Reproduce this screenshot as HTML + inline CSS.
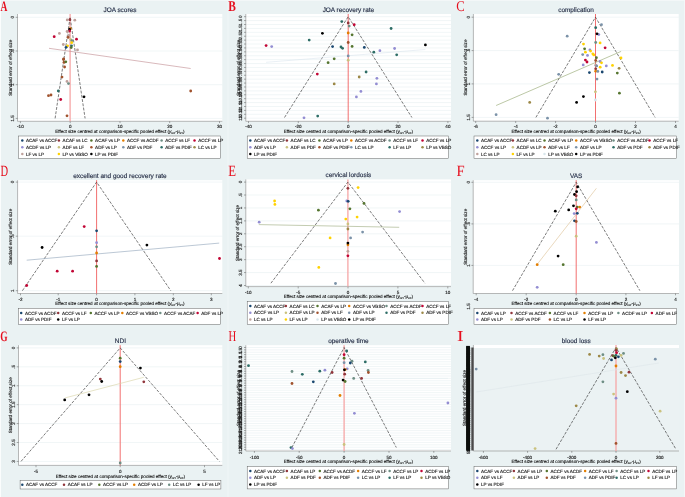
<!DOCTYPE html>
<html lang="en">
<head>
<meta charset="utf-8">
<title>Funnel plots</title>
<style>
html,body{margin:0;padding:0;background:#eaf2f3;}
body{width:685px;height:497px;overflow:hidden;}
svg{display:block;font-family:"Liberation Sans",sans-serif;}
svg text{stroke:#222;stroke-width:.14px;}
svg text.L{stroke:none;}
</style>
</head>
<body>
<svg width="685" height="497" viewBox="0 0 685 497" text-rendering="geometricPrecision">
<rect x="0" y="0" width="685" height="497" fill="#eaf2f3"/>
<rect x="0" y="0" width="0.8" height="497" fill="#fff"/>
<rect x="0" y="0" width="685" height="0.7" fill="#f6fafa"/>
<line x1="228" x2="228" y1="0" y2="497" stroke="#f2f7f8" stroke-width="0.8"/>
<rect x="684.1" y="0" width="0.9" height="497" fill="#f4f8f9"/>
<rect x="17.5" y="14" width="204.8" height="107.3" fill="#fff"/>
<line x1="17.5" x2="222.3" y1="17.3" y2="17.3" stroke="#e3ecef" stroke-width="0.5"/>
<line x1="17.5" x2="222.3" y1="51" y2="51" stroke="#e3ecef" stroke-width="0.5"/>
<line x1="17.5" x2="222.3" y1="84.7" y2="84.7" stroke="#e3ecef" stroke-width="0.5"/>
<line x1="17.5" x2="222.3" y1="118.4" y2="118.4" stroke="#e3ecef" stroke-width="0.5"/>
<line x1="17.5" x2="17.5" y1="14" y2="121.3" stroke="#8a8a8a" stroke-width="0.6"/>
<line x1="17.5" x2="222.3" y1="121.3" y2="121.3" stroke="#8a8a8a" stroke-width="0.6"/>
<line x1="15.7" x2="17.5" y1="17.3" y2="17.3" stroke="#555" stroke-width="0.5"/>
<text transform="translate(14.1,17.3) rotate(-90)" text-anchor="middle" font-size="4.55" fill="#111">0</text>
<line x1="15.7" x2="17.5" y1="51" y2="51" stroke="#555" stroke-width="0.5"/>
<text transform="translate(14.1,51) rotate(-90)" text-anchor="middle" font-size="4.55" fill="#111">.5</text>
<line x1="15.7" x2="17.5" y1="84.7" y2="84.7" stroke="#555" stroke-width="0.5"/>
<text transform="translate(14.1,84.7) rotate(-90)" text-anchor="middle" font-size="4.55" fill="#111">1</text>
<line x1="15.7" x2="17.5" y1="118.4" y2="118.4" stroke="#555" stroke-width="0.5"/>
<text transform="translate(14.1,118.4) rotate(-90)" text-anchor="middle" font-size="4.55" fill="#111">1.5</text>
<line x1="20.4" x2="20.4" y1="121.3" y2="123.1" stroke="#555" stroke-width="0.5"/>
<text x="20.4" y="128" text-anchor="middle" font-size="4.55" fill="#111">-10</text>
<line x1="70.2" x2="70.2" y1="121.3" y2="123.1" stroke="#555" stroke-width="0.5"/>
<text x="70.2" y="128" text-anchor="middle" font-size="4.55" fill="#111">0</text>
<line x1="120" x2="120" y1="121.3" y2="123.1" stroke="#555" stroke-width="0.5"/>
<text x="120" y="128" text-anchor="middle" font-size="4.55" fill="#111">10</text>
<line x1="169.7" x2="169.7" y1="121.3" y2="123.1" stroke="#555" stroke-width="0.5"/>
<text x="169.7" y="128" text-anchor="middle" font-size="4.55" fill="#111">20</text>
<line x1="219.5" x2="219.5" y1="121.3" y2="123.1" stroke="#555" stroke-width="0.5"/>
<text x="219.5" y="128" text-anchor="middle" font-size="4.55" fill="#111">30</text>
<text x="119.9" y="11.9" text-anchor="middle" font-size="6.45" fill="#24335a" stroke="#24335a">JOA scores</text>
<text x="119.9" y="132.6" text-anchor="middle" font-size="4.55" fill="#111">Effect size centred at comparison-specific pooled effect (<tspan font-style="italic">y</tspan><tspan font-size="2.6" dy="0.9">iXY</tspan><tspan dy="-0.9">-μ</tspan><tspan font-size="2.6" dy="0.9">XY</tspan><tspan dy="-0.9">)</tspan></text>
<text transform="translate(11.5,67.65) rotate(-90)" text-anchor="middle" font-size="4.55" fill="#111">Standard error of effect size</text>
<line x1="70.1" x2="70.1" y1="14" y2="121.3" stroke="#f6a6a6" stroke-width="1.3"/>
<path d="M55.1 118.4L70.1 17.3L85.1 118.4" fill="none" stroke="#2a2a2a" stroke-width="0.62" stroke-dasharray="2.9 1.4"/>
<line x1="49" y1="48.3" x2="190.7" y2="68.5" stroke="#c08a8e" stroke-width="0.6"/>
<circle cx="67.2" cy="19.9" r="1.4" fill="#bfa19c"/>
<circle cx="69.9" cy="19.7" r="1.4" fill="#90353b"/>
<circle cx="74.8" cy="20.2" r="1.4" fill="#bfa19c"/>
<circle cx="70.3" cy="28.7" r="1.4" fill="#e37e00"/>
<circle cx="69.6" cy="29.4" r="1.4" fill="#000000"/>
<circle cx="69.6" cy="31" r="1.4" fill="#c10534"/>
<circle cx="67.1" cy="31.5" r="1.4" fill="#bfa19c"/>
<circle cx="59.4" cy="33.4" r="1.4" fill="#bfa19c"/>
<circle cx="54.2" cy="36.7" r="1.4" fill="#c10534"/>
<circle cx="68.9" cy="35.5" r="1.4" fill="#bfa19c"/>
<circle cx="68.1" cy="37.4" r="1.4" fill="#a0522d"/>
<circle cx="76.5" cy="39.2" r="1.4" fill="#c10534"/>
<circle cx="70.7" cy="39.6" r="1.4" fill="#cac27e"/>
<circle cx="71.9" cy="40.7" r="1.4" fill="#6e8e84"/>
<circle cx="71.7" cy="42.7" r="1.4" fill="#ffd200"/>
<circle cx="63.3" cy="44.5" r="1.4" fill="#bfa19c"/>
<circle cx="67.6" cy="45.8" r="1.4" fill="#ffd200"/>
<circle cx="66.1" cy="47.3" r="1.4" fill="#1a476f"/>
<circle cx="71.5" cy="45.8" r="1.4" fill="#2d6d66"/>
<circle cx="71.2" cy="47.6" r="1.4" fill="#55752f"/>
<circle cx="77.5" cy="49.9" r="1.4" fill="#bfa19c"/>
<circle cx="63.7" cy="59" r="1.4" fill="#a0522d"/>
<circle cx="63.5" cy="59.4" r="1.4" fill="#a0522d"/>
<circle cx="64" cy="62.4" r="1.4" fill="#a0522d"/>
<circle cx="65.8" cy="61.8" r="1.4" fill="#55752f"/>
<circle cx="64.6" cy="67" r="1.4" fill="#a0522d"/>
<circle cx="62" cy="77.1" r="1.4" fill="#a0522d"/>
<circle cx="67" cy="81.4" r="1.4" fill="#bfa19c"/>
<circle cx="68.5" cy="83.6" r="1.4" fill="#6e8e84"/>
<circle cx="58.3" cy="90.9" r="1.4" fill="#2d6d66"/>
<circle cx="48.5" cy="95.7" r="1.4" fill="#a0522d"/>
<circle cx="51" cy="95" r="1.4" fill="#a0522d"/>
<circle cx="60.7" cy="99.5" r="1.4" fill="#c10534"/>
<circle cx="84" cy="96.8" r="1.4" fill="#000000"/>
<circle cx="67" cy="115.8" r="1.4" fill="#a0522d"/>
<circle cx="190.7" cy="91" r="1.4" fill="#a0522d"/>
<rect x="18.6" y="136" width="201.8" height="22.3" fill="#fff" stroke="#555" stroke-width="0.45"/>
<circle cx="22.3" cy="140.4" r="1.25" fill="#1a476f"/>
<text x="26" y="142" font-size="4.55" fill="#111">ACAF vs ACCF</text>
<circle cx="58.9" cy="140.4" r="1.25" fill="#90353b"/>
<text x="62.6" y="142" font-size="4.55" fill="#111">ACAF vs LC</text>
<circle cx="91.4" cy="140.4" r="1.25" fill="#55752f"/>
<text x="95.1" y="142" font-size="4.55" fill="#111">ACAF vs LP</text>
<circle cx="123.3" cy="140.4" r="1.25" fill="#e37e00"/>
<text x="127" y="142" font-size="4.55" fill="#111">ACCF vs ACDF</text>
<circle cx="161.6" cy="140.4" r="1.25" fill="#6e8e84"/>
<text x="165.3" y="142" font-size="4.55" fill="#111">ACCF vs LF</text>
<circle cx="194.5" cy="140.4" r="1.25" fill="#c10534"/>
<text x="198.2" y="142" font-size="4.55" fill="#111">ACCF vs LP</text>
<circle cx="22.3" cy="147.3" r="1.25" fill="#938dd2"/>
<text x="26" y="148.9" font-size="4.55" fill="#111">ACDF vs LP</text>
<circle cx="58.9" cy="147.3" r="1.25" fill="#cac27e"/>
<text x="62.6" y="148.9" font-size="4.55" fill="#111">ADF vs LF</text>
<circle cx="91.4" cy="147.3" r="1.25" fill="#a0522d"/>
<text x="95.1" y="148.9" font-size="4.55" fill="#111">ADF vs LP</text>
<circle cx="123.3" cy="147.3" r="1.25" fill="#7b92a8"/>
<text x="127" y="148.9" font-size="4.55" fill="#111">ADF vs PDF</text>
<circle cx="161.6" cy="147.3" r="1.25" fill="#2d6d66"/>
<text x="165.3" y="148.9" font-size="4.55" fill="#111">ADF vs PDIF</text>
<circle cx="194.5" cy="147.3" r="1.25" fill="#9c8847"/>
<text x="198.2" y="148.9" font-size="4.55" fill="#111">LC vs LP</text>
<circle cx="22.3" cy="154.1" r="1.25" fill="#bfa19c"/>
<text x="26" y="155.7" font-size="4.55" fill="#111">LF vs LP</text>
<circle cx="58.9" cy="154.1" r="1.25" fill="#ffd200"/>
<text x="62.6" y="155.7" font-size="4.55" fill="#111">LP vs VBSO</text>
<circle cx="91.4" cy="154.1" r="1.25" fill="#000000"/>
<text x="95.1" y="155.7" font-size="4.55" fill="#111">LP vs PDIF</text>
<text transform="translate(0.61,10.5) scale(0.950,1.454)" font-family="'Liberation Serif',serif" class="L" font-weight="bold" font-size="10" fill="#e60f1e">A</text>
<rect x="245.8" y="14" width="205.2" height="107.3" fill="#fff"/>
<line x1="245.8" x2="451" y1="16.7" y2="16.7" stroke="#e3ecef" stroke-width="0.5"/>
<line x1="245.8" x2="451" y1="20.6" y2="20.6" stroke="#e3ecef" stroke-width="0.5"/>
<line x1="245.8" x2="451" y1="24.51" y2="24.51" stroke="#e3ecef" stroke-width="0.5"/>
<line x1="245.8" x2="451" y1="28.41" y2="28.41" stroke="#e3ecef" stroke-width="0.5"/>
<line x1="245.8" x2="451" y1="32.32" y2="32.32" stroke="#e3ecef" stroke-width="0.5"/>
<line x1="245.8" x2="451" y1="36.22" y2="36.22" stroke="#e3ecef" stroke-width="0.5"/>
<line x1="245.8" x2="451" y1="40.12" y2="40.12" stroke="#e3ecef" stroke-width="0.5"/>
<line x1="245.8" x2="451" y1="44.03" y2="44.03" stroke="#e3ecef" stroke-width="0.5"/>
<line x1="245.8" x2="451" y1="47.93" y2="47.93" stroke="#e3ecef" stroke-width="0.5"/>
<line x1="245.8" x2="451" y1="51.84" y2="51.84" stroke="#e3ecef" stroke-width="0.5"/>
<line x1="245.8" x2="451" y1="55.74" y2="55.74" stroke="#e3ecef" stroke-width="0.5"/>
<line x1="245.8" x2="451" y1="59.64" y2="59.64" stroke="#e3ecef" stroke-width="0.5"/>
<line x1="245.8" x2="451" y1="63.55" y2="63.55" stroke="#e3ecef" stroke-width="0.5"/>
<line x1="245.8" x2="451" y1="67.45" y2="67.45" stroke="#e3ecef" stroke-width="0.5"/>
<line x1="245.8" x2="451" y1="71.36" y2="71.36" stroke="#e3ecef" stroke-width="0.5"/>
<line x1="245.8" x2="451" y1="75.26" y2="75.26" stroke="#e3ecef" stroke-width="0.5"/>
<line x1="245.8" x2="451" y1="79.16" y2="79.16" stroke="#e3ecef" stroke-width="0.5"/>
<line x1="245.8" x2="451" y1="83.07" y2="83.07" stroke="#e3ecef" stroke-width="0.5"/>
<line x1="245.8" x2="451" y1="86.97" y2="86.97" stroke="#e3ecef" stroke-width="0.5"/>
<line x1="245.8" x2="451" y1="90.88" y2="90.88" stroke="#e3ecef" stroke-width="0.5"/>
<line x1="245.8" x2="451" y1="94.78" y2="94.78" stroke="#e3ecef" stroke-width="0.5"/>
<line x1="245.8" x2="451" y1="98.68" y2="98.68" stroke="#e3ecef" stroke-width="0.5"/>
<line x1="245.8" x2="451" y1="102.59" y2="102.59" stroke="#e3ecef" stroke-width="0.5"/>
<line x1="245.8" x2="451" y1="106.49" y2="106.49" stroke="#e3ecef" stroke-width="0.5"/>
<line x1="245.8" x2="451" y1="110.4" y2="110.4" stroke="#e3ecef" stroke-width="0.5"/>
<line x1="245.8" x2="451" y1="114.3" y2="114.3" stroke="#e3ecef" stroke-width="0.5"/>
<line x1="245.8" x2="451" y1="118.2" y2="118.2" stroke="#e3ecef" stroke-width="0.5"/>
<line x1="245.8" x2="245.8" y1="14" y2="121.3" stroke="#8a8a8a" stroke-width="0.6"/>
<line x1="245.8" x2="451" y1="121.3" y2="121.3" stroke="#8a8a8a" stroke-width="0.6"/>
<line x1="244" x2="245.8" y1="16.7" y2="16.7" stroke="#555" stroke-width="0.5"/>
<text transform="translate(242.4,16.7) rotate(-90)" text-anchor="middle" font-size="4.55" fill="#111">0</text>
<line x1="244" x2="245.8" y1="20.6" y2="20.6" stroke="#555" stroke-width="0.5"/>
<text transform="translate(242.4,20.6) rotate(-90)" text-anchor="middle" font-size="4.55" fill="#111">.5</text>
<line x1="244" x2="245.8" y1="24.51" y2="24.51" stroke="#555" stroke-width="0.5"/>
<text transform="translate(242.4,24.51) rotate(-90)" text-anchor="middle" font-size="4.55" fill="#111">1</text>
<line x1="244" x2="245.8" y1="28.41" y2="28.41" stroke="#555" stroke-width="0.5"/>
<text transform="translate(242.4,28.41) rotate(-90)" text-anchor="middle" font-size="4.55" fill="#111">1.5</text>
<line x1="244" x2="245.8" y1="32.32" y2="32.32" stroke="#555" stroke-width="0.5"/>
<text transform="translate(242.4,32.32) rotate(-90)" text-anchor="middle" font-size="4.55" fill="#111">2</text>
<line x1="244" x2="245.8" y1="36.22" y2="36.22" stroke="#555" stroke-width="0.5"/>
<text transform="translate(242.4,36.22) rotate(-90)" text-anchor="middle" font-size="4.55" fill="#111">2.5</text>
<line x1="244" x2="245.8" y1="40.12" y2="40.12" stroke="#555" stroke-width="0.5"/>
<text transform="translate(242.4,40.12) rotate(-90)" text-anchor="middle" font-size="4.55" fill="#111">3</text>
<line x1="244" x2="245.8" y1="44.03" y2="44.03" stroke="#555" stroke-width="0.5"/>
<text transform="translate(242.4,44.03) rotate(-90)" text-anchor="middle" font-size="4.55" fill="#111">3.5</text>
<line x1="244" x2="245.8" y1="47.93" y2="47.93" stroke="#555" stroke-width="0.5"/>
<text transform="translate(242.4,47.93) rotate(-90)" text-anchor="middle" font-size="4.55" fill="#111">4</text>
<line x1="244" x2="245.8" y1="51.84" y2="51.84" stroke="#555" stroke-width="0.5"/>
<text transform="translate(242.4,51.84) rotate(-90)" text-anchor="middle" font-size="4.55" fill="#111">4.5</text>
<line x1="244" x2="245.8" y1="55.74" y2="55.74" stroke="#555" stroke-width="0.5"/>
<text transform="translate(242.4,55.74) rotate(-90)" text-anchor="middle" font-size="4.55" fill="#111">5</text>
<line x1="244" x2="245.8" y1="59.64" y2="59.64" stroke="#555" stroke-width="0.5"/>
<text transform="translate(242.4,59.64) rotate(-90)" text-anchor="middle" font-size="4.55" fill="#111">5.5</text>
<line x1="244" x2="245.8" y1="63.55" y2="63.55" stroke="#555" stroke-width="0.5"/>
<text transform="translate(242.4,63.55) rotate(-90)" text-anchor="middle" font-size="4.55" fill="#111">6</text>
<line x1="244" x2="245.8" y1="67.45" y2="67.45" stroke="#555" stroke-width="0.5"/>
<text transform="translate(242.4,67.45) rotate(-90)" text-anchor="middle" font-size="4.55" fill="#111">6.5</text>
<line x1="244" x2="245.8" y1="71.36" y2="71.36" stroke="#555" stroke-width="0.5"/>
<text transform="translate(242.4,71.36) rotate(-90)" text-anchor="middle" font-size="4.55" fill="#111">7</text>
<line x1="244" x2="245.8" y1="75.26" y2="75.26" stroke="#555" stroke-width="0.5"/>
<text transform="translate(242.4,75.26) rotate(-90)" text-anchor="middle" font-size="4.55" fill="#111">7.5</text>
<line x1="244" x2="245.8" y1="79.16" y2="79.16" stroke="#555" stroke-width="0.5"/>
<text transform="translate(242.4,79.16) rotate(-90)" text-anchor="middle" font-size="4.55" fill="#111">8</text>
<line x1="244" x2="245.8" y1="83.07" y2="83.07" stroke="#555" stroke-width="0.5"/>
<text transform="translate(242.4,83.07) rotate(-90)" text-anchor="middle" font-size="4.55" fill="#111">8.5</text>
<line x1="244" x2="245.8" y1="86.97" y2="86.97" stroke="#555" stroke-width="0.5"/>
<text transform="translate(242.4,86.97) rotate(-90)" text-anchor="middle" font-size="4.55" fill="#111">9</text>
<line x1="244" x2="245.8" y1="90.88" y2="90.88" stroke="#555" stroke-width="0.5"/>
<text transform="translate(242.4,90.88) rotate(-90)" text-anchor="middle" font-size="4.55" fill="#111">9.5</text>
<line x1="244" x2="245.8" y1="94.78" y2="94.78" stroke="#555" stroke-width="0.5"/>
<text transform="translate(242.4,94.78) rotate(-90)" text-anchor="middle" font-size="4.55" fill="#111">10</text>
<line x1="244" x2="245.8" y1="98.68" y2="98.68" stroke="#555" stroke-width="0.5"/>
<text transform="translate(242.4,98.68) rotate(-90)" text-anchor="middle" font-size="4.55" fill="#111">10.5</text>
<line x1="244" x2="245.8" y1="102.59" y2="102.59" stroke="#555" stroke-width="0.5"/>
<text transform="translate(242.4,102.59) rotate(-90)" text-anchor="middle" font-size="4.55" fill="#111">11</text>
<line x1="244" x2="245.8" y1="106.49" y2="106.49" stroke="#555" stroke-width="0.5"/>
<text transform="translate(242.4,106.49) rotate(-90)" text-anchor="middle" font-size="4.55" fill="#111">11.5</text>
<line x1="244" x2="245.8" y1="110.4" y2="110.4" stroke="#555" stroke-width="0.5"/>
<text transform="translate(242.4,110.4) rotate(-90)" text-anchor="middle" font-size="4.55" fill="#111">12</text>
<line x1="244" x2="245.8" y1="114.3" y2="114.3" stroke="#555" stroke-width="0.5"/>
<text transform="translate(242.4,114.3) rotate(-90)" text-anchor="middle" font-size="4.55" fill="#111">12.5</text>
<line x1="244" x2="245.8" y1="118.2" y2="118.2" stroke="#555" stroke-width="0.5"/>
<text transform="translate(242.4,118.2) rotate(-90)" text-anchor="middle" font-size="4.55" fill="#111">13</text>
<line x1="248.5" x2="248.5" y1="121.3" y2="123.1" stroke="#555" stroke-width="0.5"/>
<text x="248.5" y="128" text-anchor="middle" font-size="4.55" fill="#111">-40</text>
<line x1="298.3" x2="298.3" y1="121.3" y2="123.1" stroke="#555" stroke-width="0.5"/>
<text x="298.3" y="128" text-anchor="middle" font-size="4.55" fill="#111">-20</text>
<line x1="348.2" x2="348.2" y1="121.3" y2="123.1" stroke="#555" stroke-width="0.5"/>
<text x="348.2" y="128" text-anchor="middle" font-size="4.55" fill="#111">0</text>
<line x1="398" x2="398" y1="121.3" y2="123.1" stroke="#555" stroke-width="0.5"/>
<text x="398" y="128" text-anchor="middle" font-size="4.55" fill="#111">20</text>
<line x1="447.9" x2="447.9" y1="121.3" y2="123.1" stroke="#555" stroke-width="0.5"/>
<text x="447.9" y="128" text-anchor="middle" font-size="4.55" fill="#111">40</text>
<text x="348.4" y="11.9" text-anchor="middle" font-size="6.45" fill="#24335a" stroke="#24335a">JOA recovery rate</text>
<text x="348.4" y="132.6" text-anchor="middle" font-size="4.55" fill="#111">Effect size centred at comparison-specific pooled effect (<tspan font-style="italic">y</tspan><tspan font-size="2.6" dy="0.9">iXY</tspan><tspan dy="-0.9">-μ</tspan><tspan font-size="2.6" dy="0.9">XY</tspan><tspan dy="-0.9">)</tspan></text>
<text transform="translate(239.8,67.65) rotate(-90)" text-anchor="middle" font-size="4.55" fill="#111">Standard error of effect size</text>
<line x1="348.2" x2="348.2" y1="14" y2="121.3" stroke="#f06060" stroke-width="0.9"/>
<path d="M284.5 117.5L348.2 16.7L411.9 117.5" fill="none" stroke="#2a2a2a" stroke-width="0.62" stroke-dasharray="2.9 1.4"/>
<line x1="266.1" y1="62.3" x2="425.4" y2="49.5" stroke="#dbe6ee" stroke-width="0.6"/>
<circle cx="341.8" cy="21.6" r="1.4" fill="#2d6d66"/>
<circle cx="348.2" cy="22.9" r="1.4" fill="#90353b"/>
<circle cx="349.2" cy="26.1" r="1.4" fill="#6e8e84"/>
<circle cx="322.4" cy="33.3" r="1.4" fill="#000000"/>
<circle cx="348.2" cy="33" r="1.4" fill="#e37e00"/>
<circle cx="309.2" cy="40.1" r="1.4" fill="#2d6d66"/>
<circle cx="348.2" cy="42.5" r="1.4" fill="#a0522d"/>
<circle cx="266.1" cy="45.6" r="1.4" fill="#c10534"/>
<circle cx="271.7" cy="46.6" r="1.4" fill="#938dd2"/>
<circle cx="332.6" cy="46.6" r="1.4" fill="#1a476f"/>
<circle cx="341" cy="47" r="1.4" fill="#2d6d66"/>
<circle cx="342.6" cy="48.3" r="1.4" fill="#2d6d66"/>
<circle cx="348.2" cy="55.9" r="1.4" fill="#7b92a8"/>
<circle cx="348.2" cy="60.2" r="1.4" fill="#cac27e"/>
<circle cx="334.2" cy="58.8" r="1.4" fill="#55752f"/>
<circle cx="328.1" cy="62.7" r="1.4" fill="#55752f"/>
<circle cx="317.3" cy="74.1" r="1.4" fill="#c10534"/>
<circle cx="334.2" cy="83.9" r="1.4" fill="#9c8847"/>
<circle cx="354.2" cy="24.7" r="1.4" fill="#c10534"/>
<circle cx="391.1" cy="28.5" r="1.4" fill="#2d6d66"/>
<circle cx="352.1" cy="34.8" r="1.4" fill="#55752f"/>
<circle cx="352.1" cy="46.4" r="1.4" fill="#55752f"/>
<circle cx="364.3" cy="47.4" r="1.4" fill="#1a476f"/>
<circle cx="425.4" cy="44.9" r="1.4" fill="#000000"/>
<circle cx="394.6" cy="48.5" r="1.4" fill="#938dd2"/>
<circle cx="379.9" cy="50.7" r="1.4" fill="#938dd2"/>
<circle cx="373.8" cy="52.2" r="1.4" fill="#2d6d66"/>
<circle cx="396.7" cy="54.8" r="1.4" fill="#2d6d66"/>
<circle cx="366.1" cy="72" r="1.4" fill="#2d6d66"/>
<circle cx="359.2" cy="77" r="1.4" fill="#9c8847"/>
<circle cx="376.9" cy="78.3" r="1.4" fill="#938dd2"/>
<circle cx="376.4" cy="83.9" r="1.4" fill="#938dd2"/>
<circle cx="360.9" cy="91.4" r="1.4" fill="#938dd2"/>
<circle cx="356.4" cy="96.9" r="1.4" fill="#938dd2"/>
<circle cx="304" cy="117.8" r="1.4" fill="#938dd2"/>
<circle cx="317.7" cy="116.1" r="1.4" fill="#2d6d66"/>
<rect x="247.2" y="136" width="201.3" height="22.3" fill="#fff" stroke="#555" stroke-width="0.45"/>
<circle cx="250.3" cy="140.4" r="1.25" fill="#1a476f"/>
<text x="254" y="142" font-size="4.55" fill="#111">ACAF vs ACCF</text>
<circle cx="286.9" cy="140.4" r="1.25" fill="#90353b"/>
<text x="290.6" y="142" font-size="4.55" fill="#111">ACAF vs LC</text>
<circle cx="319.4" cy="140.4" r="1.25" fill="#55752f"/>
<text x="323.1" y="142" font-size="4.55" fill="#111">ACAF vs LP</text>
<circle cx="351.3" cy="140.4" r="1.25" fill="#e37e00"/>
<text x="355" y="142" font-size="4.55" fill="#111">ACCF vs ACDF</text>
<circle cx="389.6" cy="140.4" r="1.25" fill="#6e8e84"/>
<text x="393.3" y="142" font-size="4.55" fill="#111">ACCF vs LF</text>
<circle cx="422.5" cy="140.4" r="1.25" fill="#c10534"/>
<text x="426.2" y="142" font-size="4.55" fill="#111">ACCF vs LP</text>
<circle cx="250.3" cy="147.3" r="1.25" fill="#938dd2"/>
<text x="254" y="148.9" font-size="4.55" fill="#111">ADF vs LP</text>
<circle cx="286.9" cy="147.3" r="1.25" fill="#cac27e"/>
<text x="290.6" y="148.9" font-size="4.55" fill="#111">ADF vs PDF</text>
<circle cx="319.4" cy="147.3" r="1.25" fill="#a0522d"/>
<text x="323.1" y="148.9" font-size="4.55" fill="#111">ADF vs PDIF</text>
<circle cx="351.3" cy="147.3" r="1.25" fill="#7b92a8"/>
<text x="355" y="148.9" font-size="4.55" fill="#111">LC vs LP</text>
<circle cx="389.6" cy="147.3" r="1.25" fill="#2d6d66"/>
<text x="393.3" y="148.9" font-size="4.55" fill="#111">LF vs LP</text>
<circle cx="422.5" cy="147.3" r="1.25" fill="#9c8847"/>
<text x="426.2" y="148.9" font-size="4.55" fill="#111">LP vs VBSO</text>
<circle cx="250.3" cy="154.1" r="1.25" fill="#000000"/>
<text x="254" y="155.7" font-size="4.55" fill="#111">LP vs PDIF</text>
<text transform="translate(228.21,10.66) scale(1.140,1.490)" font-family="'Liberation Serif',serif" class="L" font-weight="bold" font-size="10" fill="#e60f1e">B</text>
<rect x="473.4" y="14" width="205.3" height="107.2" fill="#fff"/>
<line x1="473.4" x2="678.7" y1="17.2" y2="17.2" stroke="#e3ecef" stroke-width="0.5"/>
<line x1="473.4" x2="678.7" y1="50.6" y2="50.6" stroke="#e3ecef" stroke-width="0.5"/>
<line x1="473.4" x2="678.7" y1="83.9" y2="83.9" stroke="#e3ecef" stroke-width="0.5"/>
<line x1="473.4" x2="678.7" y1="117.4" y2="117.4" stroke="#e3ecef" stroke-width="0.5"/>
<line x1="473.4" x2="473.4" y1="14" y2="121.2" stroke="#8a8a8a" stroke-width="0.6"/>
<line x1="473.4" x2="678.7" y1="121.2" y2="121.2" stroke="#8a8a8a" stroke-width="0.6"/>
<line x1="471.6" x2="473.4" y1="17.2" y2="17.2" stroke="#555" stroke-width="0.5"/>
<text transform="translate(470,17.2) rotate(-90)" text-anchor="middle" font-size="4.55" fill="#111">0</text>
<line x1="471.6" x2="473.4" y1="50.6" y2="50.6" stroke="#555" stroke-width="0.5"/>
<text transform="translate(470,50.6) rotate(-90)" text-anchor="middle" font-size="4.55" fill="#111">.5</text>
<line x1="471.6" x2="473.4" y1="83.9" y2="83.9" stroke="#555" stroke-width="0.5"/>
<text transform="translate(470,83.9) rotate(-90)" text-anchor="middle" font-size="4.55" fill="#111">1</text>
<line x1="471.6" x2="473.4" y1="117.4" y2="117.4" stroke="#555" stroke-width="0.5"/>
<text transform="translate(470,117.4) rotate(-90)" text-anchor="middle" font-size="4.55" fill="#111">1.5</text>
<line x1="475.7" x2="475.7" y1="121.2" y2="123" stroke="#555" stroke-width="0.5"/>
<text x="475.7" y="128" text-anchor="middle" font-size="4.55" fill="#111">-6</text>
<line x1="515.7" x2="515.7" y1="121.2" y2="123" stroke="#555" stroke-width="0.5"/>
<text x="515.7" y="128" text-anchor="middle" font-size="4.55" fill="#111">-4</text>
<line x1="555.6" x2="555.6" y1="121.2" y2="123" stroke="#555" stroke-width="0.5"/>
<text x="555.6" y="128" text-anchor="middle" font-size="4.55" fill="#111">-2</text>
<line x1="595.5" x2="595.5" y1="121.2" y2="123" stroke="#555" stroke-width="0.5"/>
<text x="595.5" y="128" text-anchor="middle" font-size="4.55" fill="#111">0</text>
<line x1="635.5" x2="635.5" y1="121.2" y2="123" stroke="#555" stroke-width="0.5"/>
<text x="635.5" y="128" text-anchor="middle" font-size="4.55" fill="#111">2</text>
<line x1="675.5" x2="675.5" y1="121.2" y2="123" stroke="#555" stroke-width="0.5"/>
<text x="675.5" y="128" text-anchor="middle" font-size="4.55" fill="#111">4</text>
<text x="576.05" y="11.9" text-anchor="middle" font-size="6.45" fill="#24335a" stroke="#24335a">complication</text>
<text x="576.05" y="132.6" text-anchor="middle" font-size="4.55" fill="#111">Effect size centred at comparison-specific pooled effect (<tspan font-style="italic">y</tspan><tspan font-size="2.6" dy="0.9">iXY</tspan><tspan dy="-0.9">-μ</tspan><tspan font-size="2.6" dy="0.9">XY</tspan><tspan dy="-0.9">)</tspan></text>
<text transform="translate(466.5,67.6) rotate(-90)" text-anchor="middle" font-size="4.55" fill="#111">Standard error of effect size</text>
<line x1="595.5" x2="595.5" y1="14" y2="121.2" stroke="#f06060" stroke-width="0.9"/>
<path d="M535.9 117.4L595.5 17.2L655.1 117.4" fill="none" stroke="#2a2a2a" stroke-width="0.62" stroke-dasharray="2.9 1.4"/>
<line x1="496.1" y1="105.5" x2="621.1" y2="51.4" stroke="#8fa36a" stroke-width="0.6"/>
<circle cx="601.5" cy="24.7" r="1.4" fill="#7b92a8"/>
<circle cx="595.7" cy="27.7" r="1.4" fill="#2d6d66"/>
<circle cx="598.8" cy="34.6" r="1.4" fill="#938dd2"/>
<circle cx="597" cy="33.8" r="1.4" fill="#000000"/>
<circle cx="567.2" cy="36.2" r="1.4" fill="#7b92a8"/>
<circle cx="595.7" cy="42.5" r="1.4" fill="#6e8e84"/>
<circle cx="600.1" cy="42.9" r="1.4" fill="#ffd200"/>
<circle cx="583.5" cy="44.1" r="1.4" fill="#ffd200"/>
<circle cx="605.1" cy="47.8" r="1.4" fill="#c10534"/>
<circle cx="584.6" cy="48.8" r="1.4" fill="#55752f"/>
<circle cx="589.9" cy="49.9" r="1.4" fill="#938dd2"/>
<circle cx="590.6" cy="51.1" r="1.4" fill="#ffd200"/>
<circle cx="585.4" cy="52.2" r="1.4" fill="#ffd200"/>
<circle cx="582.7" cy="54.6" r="1.4" fill="#7b92a8"/>
<circle cx="587.5" cy="55.4" r="1.4" fill="#938dd2"/>
<circle cx="592.8" cy="53.8" r="1.4" fill="#ffd200"/>
<circle cx="593.8" cy="54.9" r="1.4" fill="#ffd200"/>
<circle cx="596.4" cy="57.7" r="1.4" fill="#55752f"/>
<circle cx="621" cy="58" r="1.4" fill="#ffd200"/>
<circle cx="585.4" cy="60.1" r="1.4" fill="#c10534"/>
<circle cx="587" cy="62" r="1.4" fill="#c10534"/>
<circle cx="595.7" cy="60.4" r="1.4" fill="#a0522d"/>
<circle cx="600.1" cy="61.5" r="1.4" fill="#938dd2"/>
<circle cx="601.5" cy="62.8" r="1.4" fill="#ffd200"/>
<circle cx="583.2" cy="64.9" r="1.4" fill="#938dd2"/>
<circle cx="595.7" cy="65.2" r="1.4" fill="#bfa19c"/>
<circle cx="596.7" cy="65.9" r="1.4" fill="#7b92a8"/>
<circle cx="606.3" cy="65.9" r="1.4" fill="#938dd2"/>
<circle cx="612.5" cy="65.4" r="1.4" fill="#ffd200"/>
<circle cx="600.2" cy="67.2" r="1.4" fill="#ffd200"/>
<circle cx="619.1" cy="68.3" r="1.4" fill="#9c8847"/>
<circle cx="595.7" cy="68.8" r="1.4" fill="#90353b"/>
<circle cx="595.7" cy="71.2" r="1.4" fill="#e37e00"/>
<circle cx="589.4" cy="72.6" r="1.4" fill="#1a476f"/>
<circle cx="602.2" cy="72" r="1.4" fill="#1a476f"/>
<circle cx="597.8" cy="71.4" r="1.4" fill="#7b92a8"/>
<circle cx="617.3" cy="73.1" r="1.4" fill="#55752f"/>
<circle cx="558.7" cy="74.3" r="1.4" fill="#7b92a8"/>
<circle cx="597" cy="79.1" r="1.4" fill="#7b92a8"/>
<circle cx="595.4" cy="91.8" r="1.4" fill="#cac27e"/>
<circle cx="595.4" cy="100" r="1.4" fill="#d9e6eb"/>
<circle cx="619.4" cy="93.2" r="1.4" fill="#55752f"/>
<circle cx="583.4" cy="96.6" r="1.4" fill="#000000"/>
<circle cx="576.6" cy="102.4" r="1.4" fill="#000000"/>
<circle cx="529.7" cy="102.4" r="1.4" fill="#9c8847"/>
<circle cx="496.1" cy="114.7" r="1.4" fill="#7b92a8"/>
<circle cx="547.5" cy="118.2" r="1.4" fill="#7b92a8"/>
<rect x="474" y="136" width="202.5" height="22.3" fill="#fff" stroke="#555" stroke-width="0.45"/>
<circle cx="477.3" cy="140.4" r="1.25" fill="#1a476f"/>
<text x="481" y="142" font-size="4.55" fill="#111">ACAF vs ACCF</text>
<circle cx="512.9" cy="140.4" r="1.25" fill="#90353b"/>
<text x="516.6" y="142" font-size="4.55" fill="#111">ACAF vs LC</text>
<circle cx="544.5" cy="140.4" r="1.25" fill="#55752f"/>
<text x="548.2" y="142" font-size="4.55" fill="#111">ACAF vs LP</text>
<circle cx="576.2" cy="140.4" r="1.25" fill="#e37e00"/>
<text x="579.9" y="142" font-size="4.55" fill="#111">ACCF vs VBSO</text>
<circle cx="613.5" cy="140.4" r="1.25" fill="#6e8e84"/>
<text x="617.2" y="142" font-size="4.55" fill="#111">ACCF vs ACDF</text>
<circle cx="649.5" cy="140.4" r="1.25" fill="#c10534"/>
<text x="653.2" y="142" font-size="4.55" fill="#111">ACCF vs LF</text>
<circle cx="477.3" cy="147.3" r="1.25" fill="#938dd2"/>
<text x="481" y="148.9" font-size="4.55" fill="#111">ACCF vs LP</text>
<circle cx="512.9" cy="147.3" r="1.25" fill="#cac27e"/>
<text x="516.6" y="148.9" font-size="4.55" fill="#111">ACDF vs LP</text>
<circle cx="544.5" cy="147.3" r="1.25" fill="#a0522d"/>
<text x="548.2" y="148.9" font-size="4.55" fill="#111">ADF vs LF</text>
<circle cx="576.2" cy="147.3" r="1.25" fill="#7b92a8"/>
<text x="579.9" y="148.9" font-size="4.55" fill="#111">ADF vs LP</text>
<circle cx="613.5" cy="147.3" r="1.25" fill="#2d6d66"/>
<text x="617.2" y="148.9" font-size="4.55" fill="#111">ADF vs PDF</text>
<circle cx="649.5" cy="147.3" r="1.25" fill="#9c8847"/>
<text x="653.2" y="148.9" font-size="4.55" fill="#111">ADF vs PDIF</text>
<circle cx="477.3" cy="154.1" r="1.25" fill="#bfa19c"/>
<text x="481" y="155.7" font-size="4.55" fill="#111">LC vs LP</text>
<circle cx="512.9" cy="154.1" r="1.25" fill="#ffd200"/>
<text x="516.6" y="155.7" font-size="4.55" fill="#111">LF vs LP</text>
<circle cx="544.5" cy="154.1" r="1.25" fill="#d9e6eb"/>
<text x="548.2" y="155.7" font-size="4.55" fill="#111">LP vs VBSO</text>
<circle cx="576.2" cy="154.1" r="1.25" fill="#000000"/>
<text x="579.9" y="155.7" font-size="4.55" fill="#111">LP vs PDIF</text>
<text transform="translate(456.18,10.75) scale(1.261,1.488)" font-family="'Liberation Serif',serif" class="L" font-weight="normal" font-size="10" fill="#e60f1e">C</text>
<rect x="17.6" y="180.2" width="204.7" height="113.3" fill="#fff"/>
<line x1="17.6" x2="222.3" y1="182.1" y2="182.1" stroke="#e3ecef" stroke-width="0.5"/>
<line x1="17.6" x2="222.3" y1="236.2" y2="236.2" stroke="#e3ecef" stroke-width="0.5"/>
<line x1="17.6" x2="222.3" y1="290.7" y2="290.7" stroke="#e3ecef" stroke-width="0.5"/>
<line x1="17.6" x2="17.6" y1="180.2" y2="293.5" stroke="#8a8a8a" stroke-width="0.6"/>
<line x1="17.6" x2="222.3" y1="293.5" y2="293.5" stroke="#8a8a8a" stroke-width="0.6"/>
<line x1="15.8" x2="17.6" y1="182.1" y2="182.1" stroke="#555" stroke-width="0.5"/>
<text transform="translate(14.2,182.1) rotate(-90)" text-anchor="middle" font-size="4.55" fill="#111">0</text>
<line x1="15.8" x2="17.6" y1="236.2" y2="236.2" stroke="#555" stroke-width="0.5"/>
<text transform="translate(14.2,236.2) rotate(-90)" text-anchor="middle" font-size="4.55" fill="#111">.5</text>
<line x1="15.8" x2="17.6" y1="290.7" y2="290.7" stroke="#555" stroke-width="0.5"/>
<text transform="translate(14.2,290.7) rotate(-90)" text-anchor="middle" font-size="4.55" fill="#111">1</text>
<line x1="20.5" x2="20.5" y1="293.5" y2="295.3" stroke="#555" stroke-width="0.5"/>
<text x="20.5" y="300.6" text-anchor="middle" font-size="4.55" fill="#111">-2</text>
<line x1="58.2" x2="58.2" y1="293.5" y2="295.3" stroke="#555" stroke-width="0.5"/>
<text x="58.2" y="300.6" text-anchor="middle" font-size="4.55" fill="#111">-1</text>
<line x1="96.6" x2="96.6" y1="293.5" y2="295.3" stroke="#555" stroke-width="0.5"/>
<text x="96.6" y="300.6" text-anchor="middle" font-size="4.55" fill="#111">0</text>
<line x1="134.9" x2="134.9" y1="293.5" y2="295.3" stroke="#555" stroke-width="0.5"/>
<text x="134.9" y="300.6" text-anchor="middle" font-size="4.55" fill="#111">1</text>
<line x1="173.3" x2="173.3" y1="293.5" y2="295.3" stroke="#555" stroke-width="0.5"/>
<text x="173.3" y="300.6" text-anchor="middle" font-size="4.55" fill="#111">2</text>
<line x1="211.3" x2="211.3" y1="293.5" y2="295.3" stroke="#555" stroke-width="0.5"/>
<text x="211.3" y="300.6" text-anchor="middle" font-size="4.55" fill="#111">3</text>
<text x="119.95" y="178.1" text-anchor="middle" font-size="6.45" fill="#24335a" stroke="#24335a">excellent and good recovery rate</text>
<text x="119.95" y="305.3" text-anchor="middle" font-size="4.55" fill="#111">Effect size centred at comparison-specific pooled effect (<tspan font-style="italic">y</tspan><tspan font-size="2.6" dy="0.9">iXY</tspan><tspan dy="-0.9">-μ</tspan><tspan font-size="2.6" dy="0.9">XY</tspan><tspan dy="-0.9">)</tspan></text>
<text transform="translate(11.5,236.85) rotate(-90)" text-anchor="middle" font-size="4.55" fill="#111">Standard error of effect size</text>
<line x1="96.6" x2="96.6" y1="180.2" y2="293.5" stroke="#f06060" stroke-width="0.9"/>
<path d="M22.4 290.7L96.6 182.1L170.8 290.7" fill="none" stroke="#2a2a2a" stroke-width="0.62" stroke-dasharray="2.9 1.4"/>
<line x1="26.7" y1="260.2" x2="219.2" y2="243.1" stroke="#8fa3b8" stroke-width="0.6"/>
<circle cx="84.2" cy="226.6" r="1.4" fill="#c10534"/>
<circle cx="96.6" cy="230.8" r="1.4" fill="#1a476f"/>
<circle cx="96.6" cy="242.7" r="1.4" fill="#938dd2"/>
<circle cx="96.6" cy="246.8" r="1.4" fill="#6e8e84"/>
<circle cx="96.6" cy="253" r="1.4" fill="#e37e00"/>
<circle cx="96.6" cy="260.9" r="1.4" fill="#90353b"/>
<circle cx="96.6" cy="266.4" r="1.4" fill="#55752f"/>
<circle cx="42.1" cy="247.5" r="1.4" fill="#000000"/>
<circle cx="146.9" cy="245.1" r="1.4" fill="#000000"/>
<circle cx="57.2" cy="271.2" r="1.4" fill="#c10534"/>
<circle cx="72.6" cy="271.2" r="1.4" fill="#c10534"/>
<circle cx="26.7" cy="285.5" r="1.4" fill="#c10534"/>
<circle cx="219.5" cy="258.5" r="1.4" fill="#c10534"/>
<rect x="18.6" y="308.4" width="201.8" height="15.9" fill="#fff" stroke="#555" stroke-width="0.45"/>
<circle cx="21.2" cy="312.9" r="1.25" fill="#1a476f"/>
<text x="24.9" y="314.5" font-size="4.55" fill="#111">ACCF vs ACDF</text>
<circle cx="58.2" cy="312.9" r="1.25" fill="#90353b"/>
<text x="61.9" y="314.5" font-size="4.55" fill="#111">ACCF vs LF</text>
<circle cx="90.8" cy="312.9" r="1.25" fill="#55752f"/>
<text x="94.5" y="314.5" font-size="4.55" fill="#111">ACCF vs LP</text>
<circle cx="122.3" cy="312.9" r="1.25" fill="#e37e00"/>
<text x="126" y="314.5" font-size="4.55" fill="#111">ACCF vs VBSO</text>
<circle cx="160.3" cy="312.9" r="1.25" fill="#6e8e84"/>
<text x="164" y="314.5" font-size="4.55" fill="#111">ACCF vs ACAF</text>
<circle cx="197.6" cy="312.9" r="1.25" fill="#c10534"/>
<text x="201.3" y="314.5" font-size="4.55" fill="#111">ADF vs LP</text>
<circle cx="21.2" cy="319.6" r="1.25" fill="#938dd2"/>
<text x="24.9" y="321.2" font-size="4.55" fill="#111">ADF vs PDIF</text>
<circle cx="58.2" cy="319.6" r="1.25" fill="#000000"/>
<text x="61.9" y="321.2" font-size="4.55" fill="#111">LF vs LP</text>
<text transform="translate(0.5,176.02) scale(1.056,1.553)" font-family="'Liberation Serif',serif" class="L" font-weight="normal" font-size="10" fill="#e60f1e">D</text>
<rect x="245.8" y="179.4" width="205.2" height="107.2" fill="#fff"/>
<line x1="245.8" x2="451" y1="182.1" y2="182.1" stroke="#e3ecef" stroke-width="0.5"/>
<line x1="245.8" x2="451" y1="195.03" y2="195.03" stroke="#e3ecef" stroke-width="0.5"/>
<line x1="245.8" x2="451" y1="207.95" y2="207.95" stroke="#e3ecef" stroke-width="0.5"/>
<line x1="245.8" x2="451" y1="220.88" y2="220.88" stroke="#e3ecef" stroke-width="0.5"/>
<line x1="245.8" x2="451" y1="233.8" y2="233.8" stroke="#e3ecef" stroke-width="0.5"/>
<line x1="245.8" x2="451" y1="246.72" y2="246.72" stroke="#e3ecef" stroke-width="0.5"/>
<line x1="245.8" x2="451" y1="259.65" y2="259.65" stroke="#e3ecef" stroke-width="0.5"/>
<line x1="245.8" x2="451" y1="272.57" y2="272.57" stroke="#e3ecef" stroke-width="0.5"/>
<line x1="245.8" x2="451" y1="285.5" y2="285.5" stroke="#e3ecef" stroke-width="0.5"/>
<line x1="245.8" x2="245.8" y1="179.4" y2="286.6" stroke="#8a8a8a" stroke-width="0.6"/>
<line x1="245.8" x2="451" y1="286.6" y2="286.6" stroke="#8a8a8a" stroke-width="0.6"/>
<line x1="244" x2="245.8" y1="182.1" y2="182.1" stroke="#555" stroke-width="0.5"/>
<text transform="translate(242.4,182.1) rotate(-90)" text-anchor="middle" font-size="4.55" fill="#111">0</text>
<line x1="244" x2="245.8" y1="195.03" y2="195.03" stroke="#555" stroke-width="0.5"/>
<text transform="translate(242.4,195.03) rotate(-90)" text-anchor="middle" font-size="4.55" fill="#111">.5</text>
<line x1="244" x2="245.8" y1="207.95" y2="207.95" stroke="#555" stroke-width="0.5"/>
<text transform="translate(242.4,207.95) rotate(-90)" text-anchor="middle" font-size="4.55" fill="#111">1</text>
<line x1="244" x2="245.8" y1="220.88" y2="220.88" stroke="#555" stroke-width="0.5"/>
<text transform="translate(242.4,220.88) rotate(-90)" text-anchor="middle" font-size="4.55" fill="#111">1.5</text>
<line x1="244" x2="245.8" y1="233.8" y2="233.8" stroke="#555" stroke-width="0.5"/>
<text transform="translate(242.4,233.8) rotate(-90)" text-anchor="middle" font-size="4.55" fill="#111">2</text>
<line x1="244" x2="245.8" y1="246.72" y2="246.72" stroke="#555" stroke-width="0.5"/>
<text transform="translate(242.4,246.72) rotate(-90)" text-anchor="middle" font-size="4.55" fill="#111">2.5</text>
<line x1="244" x2="245.8" y1="259.65" y2="259.65" stroke="#555" stroke-width="0.5"/>
<text transform="translate(242.4,259.65) rotate(-90)" text-anchor="middle" font-size="4.55" fill="#111">3</text>
<line x1="244" x2="245.8" y1="272.57" y2="272.57" stroke="#555" stroke-width="0.5"/>
<text transform="translate(242.4,272.57) rotate(-90)" text-anchor="middle" font-size="4.55" fill="#111">3.5</text>
<line x1="244" x2="245.8" y1="285.5" y2="285.5" stroke="#555" stroke-width="0.5"/>
<text transform="translate(242.4,285.5) rotate(-90)" text-anchor="middle" font-size="4.55" fill="#111">4</text>
<line x1="248.3" x2="248.3" y1="286.6" y2="288.4" stroke="#555" stroke-width="0.5"/>
<text x="248.3" y="293.8" text-anchor="middle" font-size="4.55" fill="#111">-10</text>
<line x1="298.2" x2="298.2" y1="286.6" y2="288.4" stroke="#555" stroke-width="0.5"/>
<text x="298.2" y="293.8" text-anchor="middle" font-size="4.55" fill="#111">-5</text>
<line x1="348" x2="348" y1="286.6" y2="288.4" stroke="#555" stroke-width="0.5"/>
<text x="348" y="293.8" text-anchor="middle" font-size="4.55" fill="#111">0</text>
<line x1="397.9" x2="397.9" y1="286.6" y2="288.4" stroke="#555" stroke-width="0.5"/>
<text x="397.9" y="293.8" text-anchor="middle" font-size="4.55" fill="#111">5</text>
<line x1="447.8" x2="447.8" y1="286.6" y2="288.4" stroke="#555" stroke-width="0.5"/>
<text x="447.8" y="293.8" text-anchor="middle" font-size="4.55" fill="#111">10</text>
<text x="348.4" y="177.3" text-anchor="middle" font-size="6.45" fill="#24335a" stroke="#24335a">cervical lordosis</text>
<text x="348.4" y="298.4" text-anchor="middle" font-size="4.55" fill="#111">Effect size centred at comparison-specific pooled effect (<tspan font-style="italic">y</tspan><tspan font-size="2.6" dy="0.9">iXY</tspan><tspan dy="-0.9">-μ</tspan><tspan font-size="2.6" dy="0.9">XY</tspan><tspan dy="-0.9">)</tspan></text>
<text transform="translate(238.6,233) rotate(-90)" text-anchor="middle" font-size="4.55" fill="#111">Standard error of effect size</text>
<line x1="347.9" x2="347.9" y1="179.4" y2="286.6" stroke="#f6a6a6" stroke-width="1.3"/>
<path d="M270.9 283.2L347.9 182.1L424.9 283.2" fill="none" stroke="#2a2a2a" stroke-width="0.62" stroke-dasharray="2.9 1.4"/>
<line x1="258.8" y1="224.6" x2="399.2" y2="227.3" stroke="#9aa97c" stroke-width="0.6"/>
<circle cx="347.9" cy="188.3" r="1.4" fill="#90353b"/>
<circle cx="358.1" cy="187.6" r="1.4" fill="#ffd200"/>
<circle cx="274.6" cy="201" r="1.4" fill="#ffd200"/>
<circle cx="274.9" cy="204.4" r="1.4" fill="#ffd200"/>
<circle cx="346.8" cy="201" r="1.4" fill="#938dd2"/>
<circle cx="348.2" cy="201.3" r="1.4" fill="#1a476f"/>
<circle cx="364" cy="203.4" r="1.4" fill="#55752f"/>
<circle cx="318.4" cy="210.2" r="1.4" fill="#55752f"/>
<circle cx="349.9" cy="208.8" r="1.4" fill="#55752f"/>
<circle cx="399.6" cy="211.6" r="1.4" fill="#938dd2"/>
<circle cx="357.1" cy="217.1" r="1.4" fill="#ffd200"/>
<circle cx="345.8" cy="219.1" r="1.4" fill="#ffd200"/>
<circle cx="259.2" cy="222.2" r="1.4" fill="#938dd2"/>
<circle cx="347.9" cy="223.9" r="1.4" fill="#cac27e"/>
<circle cx="347.9" cy="229" r="1.4" fill="#9c8847"/>
<circle cx="362.6" cy="232.1" r="1.4" fill="#7b92a8"/>
<circle cx="330.1" cy="237.9" r="1.4" fill="#ffd200"/>
<circle cx="350.6" cy="237.9" r="1.4" fill="#7b92a8"/>
<circle cx="347.9" cy="244.8" r="1.4" fill="#e37e00"/>
<circle cx="347.9" cy="243.1" r="1.4" fill="#000000"/>
<circle cx="347.9" cy="251.3" r="1.4" fill="#bfa19c"/>
<circle cx="347.9" cy="255.8" r="1.4" fill="#c10534"/>
<circle cx="318.8" cy="267.4" r="1.4" fill="#ffd200"/>
<circle cx="335.5" cy="283.5" r="1.4" fill="#7b92a8"/>
<rect x="247.2" y="301.5" width="201.3" height="22.8" fill="#fff" stroke="#555" stroke-width="0.45"/>
<circle cx="250.3" cy="305.9" r="1.25" fill="#1a476f"/>
<text x="254" y="307.5" font-size="4.55" fill="#111">ACAF vs ACCF</text>
<circle cx="285.9" cy="305.9" r="1.25" fill="#90353b"/>
<text x="289.6" y="307.5" font-size="4.55" fill="#111">ACAF vs LC</text>
<circle cx="317.5" cy="305.9" r="1.25" fill="#55752f"/>
<text x="321.2" y="307.5" font-size="4.55" fill="#111">ACAF vs LP</text>
<circle cx="349.2" cy="305.9" r="1.25" fill="#e37e00"/>
<text x="352.9" y="307.5" font-size="4.55" fill="#111">ACCF vs VBSO</text>
<circle cx="386.5" cy="305.9" r="1.25" fill="#6e8e84"/>
<text x="390.2" y="307.5" font-size="4.55" fill="#111">ACCF vs ACDF</text>
<circle cx="422.5" cy="305.9" r="1.25" fill="#c10534"/>
<text x="426.2" y="307.5" font-size="4.55" fill="#111">ACCF vs LF</text>
<circle cx="250.3" cy="312.7" r="1.25" fill="#938dd2"/>
<text x="254" y="314.3" font-size="4.55" fill="#111">ACCF vs LP</text>
<circle cx="285.9" cy="312.7" r="1.25" fill="#cac27e"/>
<text x="289.6" y="314.3" font-size="4.55" fill="#111">ACDF vs LP</text>
<circle cx="317.5" cy="312.7" r="1.25" fill="#a0522d"/>
<text x="321.2" y="314.3" font-size="4.55" fill="#111">ADF vs LF</text>
<circle cx="349.2" cy="312.7" r="1.25" fill="#7b92a8"/>
<text x="352.9" y="314.3" font-size="4.55" fill="#111">ADF vs LP</text>
<circle cx="386.5" cy="312.7" r="1.25" fill="#2d6d66"/>
<text x="390.2" y="314.3" font-size="4.55" fill="#111">ADF vs PDF</text>
<circle cx="422.5" cy="312.7" r="1.25" fill="#9c8847"/>
<text x="426.2" y="314.3" font-size="4.55" fill="#111">ADF vs PDIF</text>
<circle cx="250.3" cy="319.5" r="1.25" fill="#bfa19c"/>
<text x="254" y="321.1" font-size="4.55" fill="#111">LC vs LP</text>
<circle cx="285.9" cy="319.5" r="1.25" fill="#ffd200"/>
<text x="289.6" y="321.1" font-size="4.55" fill="#111">LF vs LP</text>
<circle cx="317.5" cy="319.5" r="1.25" fill="#d9e6eb"/>
<text x="321.2" y="321.1" font-size="4.55" fill="#111">LP vs VBSO</text>
<circle cx="349.2" cy="319.5" r="1.25" fill="#000000"/>
<text x="352.9" y="321.1" font-size="4.55" fill="#111">LP vs PDIF</text>
<text transform="translate(228.23,176.05) scale(1.278,1.565)" font-family="'Liberation Serif',serif" class="L" font-weight="normal" font-size="10" fill="#e60f1e">E</text>
<rect x="473.2" y="180.2" width="205.8" height="113.3" fill="#fff"/>
<line x1="473.2" x2="679" y1="182.3" y2="182.3" stroke="#e3ecef" stroke-width="0.5"/>
<line x1="473.2" x2="679" y1="223.9" y2="223.9" stroke="#e3ecef" stroke-width="0.5"/>
<line x1="473.2" x2="679" y1="265.4" y2="265.4" stroke="#e3ecef" stroke-width="0.5"/>
<line x1="473.2" x2="473.2" y1="180.2" y2="293.5" stroke="#8a8a8a" stroke-width="0.6"/>
<line x1="473.2" x2="679" y1="293.5" y2="293.5" stroke="#8a8a8a" stroke-width="0.6"/>
<line x1="471.4" x2="473.2" y1="182.3" y2="182.3" stroke="#555" stroke-width="0.5"/>
<text transform="translate(469.8,182.3) rotate(-90)" text-anchor="middle" font-size="4.55" fill="#111">0</text>
<line x1="471.4" x2="473.2" y1="223.9" y2="223.9" stroke="#555" stroke-width="0.5"/>
<text transform="translate(469.8,223.9) rotate(-90)" text-anchor="middle" font-size="4.55" fill="#111">.5</text>
<line x1="471.4" x2="473.2" y1="265.4" y2="265.4" stroke="#555" stroke-width="0.5"/>
<text transform="translate(469.8,265.4) rotate(-90)" text-anchor="middle" font-size="4.55" fill="#111">1</text>
<text transform="translate(469.8,306.4) rotate(-90)" text-anchor="middle" font-size="4.55" fill="#111">1.5</text>
<line x1="476.2" x2="476.2" y1="293.5" y2="295.3" stroke="#555" stroke-width="0.5"/>
<text x="476.2" y="300.6" text-anchor="middle" font-size="4.55" fill="#111">-4</text>
<line x1="526.2" x2="526.2" y1="293.5" y2="295.3" stroke="#555" stroke-width="0.5"/>
<text x="526.2" y="300.6" text-anchor="middle" font-size="4.55" fill="#111">-2</text>
<line x1="576.2" x2="576.2" y1="293.5" y2="295.3" stroke="#555" stroke-width="0.5"/>
<text x="576.2" y="300.6" text-anchor="middle" font-size="4.55" fill="#111">0</text>
<line x1="625.9" x2="625.9" y1="293.5" y2="295.3" stroke="#555" stroke-width="0.5"/>
<text x="625.9" y="300.6" text-anchor="middle" font-size="4.55" fill="#111">2</text>
<line x1="675.5" x2="675.5" y1="293.5" y2="295.3" stroke="#555" stroke-width="0.5"/>
<text x="675.5" y="300.6" text-anchor="middle" font-size="4.55" fill="#111">4</text>
<text x="576.1" y="178.1" text-anchor="middle" font-size="6.45" fill="#24335a" stroke="#24335a">VAS</text>
<text x="576.1" y="305.3" text-anchor="middle" font-size="4.55" fill="#111">Effect size centred at comparison-specific pooled effect (<tspan font-style="italic">y</tspan><tspan font-size="2.6" dy="0.9">iXY</tspan><tspan dy="-0.9">-μ</tspan><tspan font-size="2.6" dy="0.9">XY</tspan><tspan dy="-0.9">)</tspan></text>
<text transform="translate(466.5,236.85) rotate(-90)" text-anchor="middle" font-size="4.55" fill="#111">Standard error of effect size</text>
<line x1="576.2" x2="576.2" y1="180.2" y2="293.5" stroke="#f06060" stroke-width="0.9"/>
<path d="M512.5 290.7L576.2 182.3L639.9 290.7" fill="none" stroke="#2a2a2a" stroke-width="0.62" stroke-dasharray="2.9 1.4"/>
<line x1="537.2" y1="264.3" x2="596.4" y2="188.3" stroke="#dcc092" stroke-width="0.6"/>
<circle cx="577.6" cy="186.9" r="1.4" fill="#000000"/>
<circle cx="576.6" cy="191.7" r="1.4" fill="#000000"/>
<circle cx="574.5" cy="194.5" r="1.4" fill="#000000"/>
<circle cx="576.2" cy="195.8" r="1.4" fill="#90353b"/>
<circle cx="576.2" cy="199.9" r="1.4" fill="#6e8e84"/>
<circle cx="573.5" cy="205.8" r="1.4" fill="#000000"/>
<circle cx="577.3" cy="207.1" r="1.4" fill="#55752f"/>
<circle cx="579.7" cy="207.1" r="1.4" fill="#e37e00"/>
<circle cx="576.2" cy="208.8" r="1.4" fill="#c10534"/>
<circle cx="568.7" cy="209.9" r="1.4" fill="#000000"/>
<circle cx="555.3" cy="211.2" r="1.4" fill="#000000"/>
<circle cx="574.2" cy="213.6" r="1.4" fill="#938dd2"/>
<circle cx="577.3" cy="213.3" r="1.4" fill="#1a476f"/>
<circle cx="574.5" cy="220.8" r="1.4" fill="#1a476f"/>
<circle cx="576.2" cy="221.5" r="1.4" fill="#a0522d"/>
<circle cx="576.2" cy="236.2" r="1.4" fill="#cac27e"/>
<circle cx="596.4" cy="242.4" r="1.4" fill="#938dd2"/>
<circle cx="558.1" cy="256.1" r="1.4" fill="#000000"/>
<circle cx="537.2" cy="264.7" r="1.4" fill="#e37e00"/>
<circle cx="563.2" cy="264.7" r="1.4" fill="#55752f"/>
<circle cx="537.2" cy="287.3" r="1.4" fill="#938dd2"/>
<rect x="474" y="308.4" width="202.5" height="15.9" fill="#fff" stroke="#555" stroke-width="0.45"/>
<circle cx="477.3" cy="312.9" r="1.25" fill="#1a476f"/>
<text x="481" y="314.5" font-size="4.55" fill="#111">ACAF vs LP</text>
<circle cx="511.5" cy="312.9" r="1.25" fill="#90353b"/>
<text x="515.2" y="314.5" font-size="4.55" fill="#111">ACCF vs ACDF</text>
<circle cx="549.9" cy="312.9" r="1.25" fill="#55752f"/>
<text x="553.6" y="314.5" font-size="4.55" fill="#111">ACCF vs LF</text>
<circle cx="584.5" cy="312.9" r="1.25" fill="#e37e00"/>
<text x="588.2" y="314.5" font-size="4.55" fill="#111">ACCF vs LP</text>
<circle cx="618.4" cy="312.9" r="1.25" fill="#6e8e84"/>
<text x="622.1" y="314.5" font-size="4.55" fill="#111">ACDF vs LP</text>
<circle cx="651.9" cy="312.9" r="1.25" fill="#c10534"/>
<text x="655.6" y="314.5" font-size="4.55" fill="#111">ADF vs LF</text>
<circle cx="477.3" cy="319.6" r="1.25" fill="#938dd2"/>
<text x="481" y="321.2" font-size="4.55" fill="#111">ADF vs LP</text>
<circle cx="511.5" cy="319.6" r="1.25" fill="#cac27e"/>
<text x="515.2" y="321.2" font-size="4.55" fill="#111">ADF vs PDF</text>
<circle cx="549.9" cy="319.6" r="1.25" fill="#a0522d"/>
<text x="553.6" y="321.2" font-size="4.55" fill="#111">LC vs LP</text>
<circle cx="584.5" cy="319.6" r="1.25" fill="#000000"/>
<text x="588.2" y="321.2" font-size="4.55" fill="#111">LF vs LP</text>
<text transform="translate(456.38,176.1) scale(1.466,1.573)" font-family="'Liberation Serif',serif" class="L" font-weight="normal" font-size="10" fill="#e60f1e">F</text>
<rect x="18.5" y="345.2" width="203.8" height="120.2" fill="#fff"/>
<line x1="18.5" x2="222.3" y1="347.9" y2="347.9" stroke="#e3ecef" stroke-width="0.5"/>
<line x1="18.5" x2="222.3" y1="366.82" y2="366.82" stroke="#e3ecef" stroke-width="0.5"/>
<line x1="18.5" x2="222.3" y1="385.74" y2="385.74" stroke="#e3ecef" stroke-width="0.5"/>
<line x1="18.5" x2="222.3" y1="404.66" y2="404.66" stroke="#e3ecef" stroke-width="0.5"/>
<line x1="18.5" x2="222.3" y1="423.58" y2="423.58" stroke="#e3ecef" stroke-width="0.5"/>
<line x1="18.5" x2="222.3" y1="442.5" y2="442.5" stroke="#e3ecef" stroke-width="0.5"/>
<line x1="18.5" x2="222.3" y1="461.42" y2="461.42" stroke="#e3ecef" stroke-width="0.5"/>
<line x1="18.5" x2="18.5" y1="345.2" y2="465.4" stroke="#8a8a8a" stroke-width="0.6"/>
<line x1="18.5" x2="222.3" y1="465.4" y2="465.4" stroke="#8a8a8a" stroke-width="0.6"/>
<line x1="16.7" x2="18.5" y1="347.9" y2="347.9" stroke="#555" stroke-width="0.5"/>
<text transform="translate(15.1,347.9) rotate(-90)" text-anchor="middle" font-size="4.55" fill="#111">0</text>
<line x1="16.7" x2="18.5" y1="366.82" y2="366.82" stroke="#555" stroke-width="0.5"/>
<text transform="translate(15.1,366.82) rotate(-90)" text-anchor="middle" font-size="4.55" fill="#111">.5</text>
<line x1="16.7" x2="18.5" y1="385.74" y2="385.74" stroke="#555" stroke-width="0.5"/>
<text transform="translate(15.1,385.74) rotate(-90)" text-anchor="middle" font-size="4.55" fill="#111">1</text>
<line x1="16.7" x2="18.5" y1="404.66" y2="404.66" stroke="#555" stroke-width="0.5"/>
<text transform="translate(15.1,404.66) rotate(-90)" text-anchor="middle" font-size="4.55" fill="#111">1.5</text>
<line x1="16.7" x2="18.5" y1="423.58" y2="423.58" stroke="#555" stroke-width="0.5"/>
<text transform="translate(15.1,423.58) rotate(-90)" text-anchor="middle" font-size="4.55" fill="#111">2</text>
<line x1="16.7" x2="18.5" y1="442.5" y2="442.5" stroke="#555" stroke-width="0.5"/>
<text transform="translate(15.1,442.5) rotate(-90)" text-anchor="middle" font-size="4.55" fill="#111">2.5</text>
<line x1="16.7" x2="18.5" y1="461.42" y2="461.42" stroke="#555" stroke-width="0.5"/>
<text transform="translate(15.1,461.42) rotate(-90)" text-anchor="middle" font-size="4.55" fill="#111">3</text>
<line x1="36" x2="36" y1="465.4" y2="467.2" stroke="#555" stroke-width="0.5"/>
<text x="36" y="472.6" text-anchor="middle" font-size="4.55" fill="#111">-5</text>
<line x1="120.2" x2="120.2" y1="465.4" y2="467.2" stroke="#555" stroke-width="0.5"/>
<text x="120.2" y="472.6" text-anchor="middle" font-size="4.55" fill="#111">0</text>
<line x1="204.5" x2="204.5" y1="465.4" y2="467.2" stroke="#555" stroke-width="0.5"/>
<text x="204.5" y="472.6" text-anchor="middle" font-size="4.55" fill="#111">5</text>
<text x="120.4" y="343.1" text-anchor="middle" font-size="6.45" fill="#24335a" stroke="#24335a">NDI</text>
<text x="120.4" y="477.6" text-anchor="middle" font-size="4.55" fill="#111">Effect size centred at comparison-specific pooled effect (<tspan font-style="italic">y</tspan><tspan font-size="2.6" dy="0.9">iXY</tspan><tspan dy="-0.9">-μ</tspan><tspan font-size="2.6" dy="0.9">XY</tspan><tspan dy="-0.9">)</tspan></text>
<text transform="translate(11.5,405.3) rotate(-90)" text-anchor="middle" font-size="4.55" fill="#111">Standard error of effect size</text>
<line x1="120.2" x2="120.2" y1="345.2" y2="465.4" stroke="#f06060" stroke-width="0.9"/>
<path d="M21 461.4L120.2 347.9L219.4 461.4" fill="none" stroke="#2a2a2a" stroke-width="0.62" stroke-dasharray="2.9 1.4"/>
<line x1="65.1" y1="397.9" x2="143.8" y2="377.3" stroke="#d6d1a2" stroke-width="0.6"/>
<circle cx="120.2" cy="358.2" r="1.4" fill="#55752f"/>
<circle cx="120.2" cy="361.6" r="1.4" fill="#1a476f"/>
<circle cx="120.2" cy="366.7" r="1.4" fill="#e37e00"/>
<circle cx="140.4" cy="368.1" r="1.4" fill="#000000"/>
<circle cx="100.3" cy="379.1" r="1.4" fill="#90353b"/>
<circle cx="101.7" cy="381.5" r="1.4" fill="#000000"/>
<circle cx="143.8" cy="381.8" r="1.4" fill="#90353b"/>
<circle cx="89" cy="394.8" r="1.4" fill="#000000"/>
<circle cx="64.7" cy="399.9" r="1.4" fill="#000000"/>
<circle cx="120.2" cy="463" r="1.4" fill="#6e8e84"/>
<rect x="20.1" y="480.4" width="200.8" height="8.6" fill="#fff" stroke="#555" stroke-width="0.45"/>
<circle cx="22.3" cy="484.7" r="1.25" fill="#1a476f"/>
<text x="26" y="486.3" font-size="4.55" fill="#111">ACAF vs ACCF</text>
<circle cx="64" cy="484.7" r="1.25" fill="#90353b"/>
<text x="67.7" y="486.3" font-size="4.55" fill="#111">ACAF vs LP</text>
<circle cx="99.3" cy="484.7" r="1.25" fill="#55752f"/>
<text x="103" y="486.3" font-size="4.55" fill="#111">ACCF vs LP</text>
<circle cx="134.2" cy="484.7" r="1.25" fill="#e37e00"/>
<text x="137.9" y="486.3" font-size="4.55" fill="#111">ACDF vs LP</text>
<circle cx="169.2" cy="484.7" r="1.25" fill="#6e8e84"/>
<text x="172.9" y="486.3" font-size="4.55" fill="#111">LC vs LP</text>
<circle cx="198.6" cy="484.7" r="1.25" fill="#000000"/>
<text x="202.3" y="486.3" font-size="4.55" fill="#111">LF vs LP</text>
<text transform="translate(0.34,340.96) scale(0.941,1.451)" font-family="'Liberation Serif',serif" class="L" font-weight="bold" font-size="10" fill="#e60f1e">G</text>
<rect x="245.8" y="345.2" width="205.2" height="105.8" fill="#fff"/>
<line x1="245.8" x2="451" y1="347.5" y2="347.5" stroke="#e3ecef" stroke-width="0.5"/>
<line x1="245.8" x2="451" y1="349.87" y2="349.87" stroke="#e3ecef" stroke-width="0.5"/>
<line x1="245.8" x2="451" y1="352.25" y2="352.25" stroke="#e3ecef" stroke-width="0.5"/>
<line x1="245.8" x2="451" y1="354.62" y2="354.62" stroke="#e3ecef" stroke-width="0.5"/>
<line x1="245.8" x2="451" y1="357" y2="357" stroke="#e3ecef" stroke-width="0.5"/>
<line x1="245.8" x2="451" y1="359.37" y2="359.37" stroke="#e3ecef" stroke-width="0.5"/>
<line x1="245.8" x2="451" y1="361.74" y2="361.74" stroke="#e3ecef" stroke-width="0.5"/>
<line x1="245.8" x2="451" y1="364.12" y2="364.12" stroke="#e3ecef" stroke-width="0.5"/>
<line x1="245.8" x2="451" y1="366.49" y2="366.49" stroke="#e3ecef" stroke-width="0.5"/>
<line x1="245.8" x2="451" y1="368.87" y2="368.87" stroke="#e3ecef" stroke-width="0.5"/>
<line x1="245.8" x2="451" y1="371.24" y2="371.24" stroke="#e3ecef" stroke-width="0.5"/>
<line x1="245.8" x2="451" y1="373.61" y2="373.61" stroke="#e3ecef" stroke-width="0.5"/>
<line x1="245.8" x2="451" y1="375.99" y2="375.99" stroke="#e3ecef" stroke-width="0.5"/>
<line x1="245.8" x2="451" y1="378.36" y2="378.36" stroke="#e3ecef" stroke-width="0.5"/>
<line x1="245.8" x2="451" y1="380.74" y2="380.74" stroke="#e3ecef" stroke-width="0.5"/>
<line x1="245.8" x2="451" y1="383.11" y2="383.11" stroke="#e3ecef" stroke-width="0.5"/>
<line x1="245.8" x2="451" y1="385.48" y2="385.48" stroke="#e3ecef" stroke-width="0.5"/>
<line x1="245.8" x2="451" y1="387.86" y2="387.86" stroke="#e3ecef" stroke-width="0.5"/>
<line x1="245.8" x2="451" y1="390.23" y2="390.23" stroke="#e3ecef" stroke-width="0.5"/>
<line x1="245.8" x2="451" y1="392.61" y2="392.61" stroke="#e3ecef" stroke-width="0.5"/>
<line x1="245.8" x2="451" y1="394.98" y2="394.98" stroke="#e3ecef" stroke-width="0.5"/>
<line x1="245.8" x2="451" y1="397.35" y2="397.35" stroke="#e3ecef" stroke-width="0.5"/>
<line x1="245.8" x2="451" y1="399.73" y2="399.73" stroke="#e3ecef" stroke-width="0.5"/>
<line x1="245.8" x2="451" y1="402.1" y2="402.1" stroke="#e3ecef" stroke-width="0.5"/>
<line x1="245.8" x2="451" y1="404.48" y2="404.48" stroke="#e3ecef" stroke-width="0.5"/>
<line x1="245.8" x2="451" y1="406.85" y2="406.85" stroke="#e3ecef" stroke-width="0.5"/>
<line x1="245.8" x2="451" y1="409.22" y2="409.22" stroke="#e3ecef" stroke-width="0.5"/>
<line x1="245.8" x2="451" y1="411.6" y2="411.6" stroke="#e3ecef" stroke-width="0.5"/>
<line x1="245.8" x2="451" y1="413.97" y2="413.97" stroke="#e3ecef" stroke-width="0.5"/>
<line x1="245.8" x2="451" y1="416.35" y2="416.35" stroke="#e3ecef" stroke-width="0.5"/>
<line x1="245.8" x2="451" y1="418.72" y2="418.72" stroke="#e3ecef" stroke-width="0.5"/>
<line x1="245.8" x2="451" y1="421.09" y2="421.09" stroke="#e3ecef" stroke-width="0.5"/>
<line x1="245.8" x2="451" y1="423.47" y2="423.47" stroke="#e3ecef" stroke-width="0.5"/>
<line x1="245.8" x2="451" y1="425.84" y2="425.84" stroke="#e3ecef" stroke-width="0.5"/>
<line x1="245.8" x2="451" y1="428.22" y2="428.22" stroke="#e3ecef" stroke-width="0.5"/>
<line x1="245.8" x2="451" y1="430.59" y2="430.59" stroke="#e3ecef" stroke-width="0.5"/>
<line x1="245.8" x2="451" y1="432.96" y2="432.96" stroke="#e3ecef" stroke-width="0.5"/>
<line x1="245.8" x2="451" y1="435.34" y2="435.34" stroke="#e3ecef" stroke-width="0.5"/>
<line x1="245.8" x2="451" y1="437.71" y2="437.71" stroke="#e3ecef" stroke-width="0.5"/>
<line x1="245.8" x2="451" y1="440.09" y2="440.09" stroke="#e3ecef" stroke-width="0.5"/>
<line x1="245.8" x2="451" y1="442.46" y2="442.46" stroke="#e3ecef" stroke-width="0.5"/>
<line x1="245.8" x2="451" y1="444.83" y2="444.83" stroke="#e3ecef" stroke-width="0.5"/>
<line x1="245.8" x2="451" y1="447.21" y2="447.21" stroke="#e3ecef" stroke-width="0.5"/>
<line x1="245.8" x2="451" y1="449.58" y2="449.58" stroke="#e3ecef" stroke-width="0.5"/>
<line x1="245.8" x2="245.8" y1="345.2" y2="451" stroke="#8a8a8a" stroke-width="0.6"/>
<line x1="245.8" x2="451" y1="451" y2="451" stroke="#8a8a8a" stroke-width="0.6"/>
<line x1="244" x2="245.8" y1="347.5" y2="347.5" stroke="#555" stroke-width="0.5"/>
<text transform="translate(242.4,347.5) rotate(-90)" text-anchor="middle" font-size="4.55" fill="#111">0</text>
<line x1="244" x2="245.8" y1="349.87" y2="349.87" stroke="#555" stroke-width="0.5"/>
<text transform="translate(242.4,349.87) rotate(-90)" text-anchor="middle" font-size="4.55" fill="#111">.5</text>
<line x1="244" x2="245.8" y1="352.25" y2="352.25" stroke="#555" stroke-width="0.5"/>
<text transform="translate(242.4,352.25) rotate(-90)" text-anchor="middle" font-size="4.55" fill="#111">1</text>
<line x1="244" x2="245.8" y1="354.62" y2="354.62" stroke="#555" stroke-width="0.5"/>
<text transform="translate(242.4,354.62) rotate(-90)" text-anchor="middle" font-size="4.55" fill="#111">1.5</text>
<line x1="244" x2="245.8" y1="357" y2="357" stroke="#555" stroke-width="0.5"/>
<text transform="translate(242.4,357) rotate(-90)" text-anchor="middle" font-size="4.55" fill="#111">2</text>
<line x1="244" x2="245.8" y1="359.37" y2="359.37" stroke="#555" stroke-width="0.5"/>
<text transform="translate(242.4,359.37) rotate(-90)" text-anchor="middle" font-size="4.55" fill="#111">2.5</text>
<line x1="244" x2="245.8" y1="361.74" y2="361.74" stroke="#555" stroke-width="0.5"/>
<text transform="translate(242.4,361.74) rotate(-90)" text-anchor="middle" font-size="4.55" fill="#111">3</text>
<line x1="244" x2="245.8" y1="364.12" y2="364.12" stroke="#555" stroke-width="0.5"/>
<text transform="translate(242.4,364.12) rotate(-90)" text-anchor="middle" font-size="4.55" fill="#111">3.5</text>
<line x1="244" x2="245.8" y1="366.49" y2="366.49" stroke="#555" stroke-width="0.5"/>
<text transform="translate(242.4,366.49) rotate(-90)" text-anchor="middle" font-size="4.55" fill="#111">4</text>
<line x1="244" x2="245.8" y1="368.87" y2="368.87" stroke="#555" stroke-width="0.5"/>
<text transform="translate(242.4,368.87) rotate(-90)" text-anchor="middle" font-size="4.55" fill="#111">4.5</text>
<line x1="244" x2="245.8" y1="371.24" y2="371.24" stroke="#555" stroke-width="0.5"/>
<text transform="translate(242.4,371.24) rotate(-90)" text-anchor="middle" font-size="4.55" fill="#111">5</text>
<line x1="244" x2="245.8" y1="373.61" y2="373.61" stroke="#555" stroke-width="0.5"/>
<text transform="translate(242.4,373.61) rotate(-90)" text-anchor="middle" font-size="4.55" fill="#111">5.5</text>
<line x1="244" x2="245.8" y1="375.99" y2="375.99" stroke="#555" stroke-width="0.5"/>
<text transform="translate(242.4,375.99) rotate(-90)" text-anchor="middle" font-size="4.55" fill="#111">6</text>
<line x1="244" x2="245.8" y1="378.36" y2="378.36" stroke="#555" stroke-width="0.5"/>
<text transform="translate(242.4,378.36) rotate(-90)" text-anchor="middle" font-size="4.55" fill="#111">6.5</text>
<line x1="244" x2="245.8" y1="380.74" y2="380.74" stroke="#555" stroke-width="0.5"/>
<text transform="translate(242.4,380.74) rotate(-90)" text-anchor="middle" font-size="4.55" fill="#111">7</text>
<line x1="244" x2="245.8" y1="383.11" y2="383.11" stroke="#555" stroke-width="0.5"/>
<text transform="translate(242.4,383.11) rotate(-90)" text-anchor="middle" font-size="4.55" fill="#111">7.5</text>
<line x1="244" x2="245.8" y1="385.48" y2="385.48" stroke="#555" stroke-width="0.5"/>
<text transform="translate(242.4,385.48) rotate(-90)" text-anchor="middle" font-size="4.55" fill="#111">8</text>
<line x1="244" x2="245.8" y1="387.86" y2="387.86" stroke="#555" stroke-width="0.5"/>
<text transform="translate(242.4,387.86) rotate(-90)" text-anchor="middle" font-size="4.55" fill="#111">8.5</text>
<line x1="244" x2="245.8" y1="390.23" y2="390.23" stroke="#555" stroke-width="0.5"/>
<text transform="translate(242.4,390.23) rotate(-90)" text-anchor="middle" font-size="4.55" fill="#111">9</text>
<line x1="244" x2="245.8" y1="392.61" y2="392.61" stroke="#555" stroke-width="0.5"/>
<text transform="translate(242.4,392.61) rotate(-90)" text-anchor="middle" font-size="4.55" fill="#111">9.5</text>
<line x1="244" x2="245.8" y1="394.98" y2="394.98" stroke="#555" stroke-width="0.5"/>
<text transform="translate(242.4,394.98) rotate(-90)" text-anchor="middle" font-size="4.55" fill="#111">10</text>
<line x1="244" x2="245.8" y1="397.35" y2="397.35" stroke="#555" stroke-width="0.5"/>
<text transform="translate(242.4,397.35) rotate(-90)" text-anchor="middle" font-size="4.55" fill="#111">10.5</text>
<line x1="244" x2="245.8" y1="399.73" y2="399.73" stroke="#555" stroke-width="0.5"/>
<text transform="translate(242.4,399.73) rotate(-90)" text-anchor="middle" font-size="4.55" fill="#111">11</text>
<line x1="244" x2="245.8" y1="402.1" y2="402.1" stroke="#555" stroke-width="0.5"/>
<text transform="translate(242.4,402.1) rotate(-90)" text-anchor="middle" font-size="4.55" fill="#111">11.5</text>
<line x1="244" x2="245.8" y1="404.48" y2="404.48" stroke="#555" stroke-width="0.5"/>
<text transform="translate(242.4,404.48) rotate(-90)" text-anchor="middle" font-size="4.55" fill="#111">12</text>
<line x1="244" x2="245.8" y1="406.85" y2="406.85" stroke="#555" stroke-width="0.5"/>
<text transform="translate(242.4,406.85) rotate(-90)" text-anchor="middle" font-size="4.55" fill="#111">12.5</text>
<line x1="244" x2="245.8" y1="409.22" y2="409.22" stroke="#555" stroke-width="0.5"/>
<text transform="translate(242.4,409.22) rotate(-90)" text-anchor="middle" font-size="4.55" fill="#111">13</text>
<line x1="244" x2="245.8" y1="411.6" y2="411.6" stroke="#555" stroke-width="0.5"/>
<text transform="translate(242.4,411.6) rotate(-90)" text-anchor="middle" font-size="4.55" fill="#111">13.5</text>
<line x1="244" x2="245.8" y1="413.97" y2="413.97" stroke="#555" stroke-width="0.5"/>
<text transform="translate(242.4,413.97) rotate(-90)" text-anchor="middle" font-size="4.55" fill="#111">14</text>
<line x1="244" x2="245.8" y1="416.35" y2="416.35" stroke="#555" stroke-width="0.5"/>
<text transform="translate(242.4,416.35) rotate(-90)" text-anchor="middle" font-size="4.55" fill="#111">14.5</text>
<line x1="244" x2="245.8" y1="418.72" y2="418.72" stroke="#555" stroke-width="0.5"/>
<text transform="translate(242.4,418.72) rotate(-90)" text-anchor="middle" font-size="4.55" fill="#111">15</text>
<line x1="244" x2="245.8" y1="421.09" y2="421.09" stroke="#555" stroke-width="0.5"/>
<text transform="translate(242.4,421.09) rotate(-90)" text-anchor="middle" font-size="4.55" fill="#111">15.5</text>
<line x1="244" x2="245.8" y1="423.47" y2="423.47" stroke="#555" stroke-width="0.5"/>
<text transform="translate(242.4,423.47) rotate(-90)" text-anchor="middle" font-size="4.55" fill="#111">16</text>
<line x1="244" x2="245.8" y1="425.84" y2="425.84" stroke="#555" stroke-width="0.5"/>
<text transform="translate(242.4,425.84) rotate(-90)" text-anchor="middle" font-size="4.55" fill="#111">16.5</text>
<line x1="244" x2="245.8" y1="428.22" y2="428.22" stroke="#555" stroke-width="0.5"/>
<text transform="translate(242.4,428.22) rotate(-90)" text-anchor="middle" font-size="4.55" fill="#111">17</text>
<line x1="244" x2="245.8" y1="430.59" y2="430.59" stroke="#555" stroke-width="0.5"/>
<text transform="translate(242.4,430.59) rotate(-90)" text-anchor="middle" font-size="4.55" fill="#111">17.5</text>
<line x1="244" x2="245.8" y1="432.96" y2="432.96" stroke="#555" stroke-width="0.5"/>
<text transform="translate(242.4,432.96) rotate(-90)" text-anchor="middle" font-size="4.55" fill="#111">18</text>
<line x1="244" x2="245.8" y1="435.34" y2="435.34" stroke="#555" stroke-width="0.5"/>
<text transform="translate(242.4,435.34) rotate(-90)" text-anchor="middle" font-size="4.55" fill="#111">18.5</text>
<line x1="244" x2="245.8" y1="437.71" y2="437.71" stroke="#555" stroke-width="0.5"/>
<text transform="translate(242.4,437.71) rotate(-90)" text-anchor="middle" font-size="4.55" fill="#111">19</text>
<line x1="244" x2="245.8" y1="440.09" y2="440.09" stroke="#555" stroke-width="0.5"/>
<text transform="translate(242.4,440.09) rotate(-90)" text-anchor="middle" font-size="4.55" fill="#111">19.5</text>
<line x1="244" x2="245.8" y1="442.46" y2="442.46" stroke="#555" stroke-width="0.5"/>
<text transform="translate(242.4,442.46) rotate(-90)" text-anchor="middle" font-size="4.55" fill="#111">20</text>
<line x1="244" x2="245.8" y1="444.83" y2="444.83" stroke="#555" stroke-width="0.5"/>
<text transform="translate(242.4,444.83) rotate(-90)" text-anchor="middle" font-size="4.55" fill="#111">20.5</text>
<line x1="244" x2="245.8" y1="447.21" y2="447.21" stroke="#555" stroke-width="0.5"/>
<text transform="translate(242.4,447.21) rotate(-90)" text-anchor="middle" font-size="4.55" fill="#111">21</text>
<line x1="244" x2="245.8" y1="449.58" y2="449.58" stroke="#555" stroke-width="0.5"/>
<text transform="translate(242.4,449.58) rotate(-90)" text-anchor="middle" font-size="4.55" fill="#111">21.5</text>
<line x1="254.4" x2="254.4" y1="451" y2="452.8" stroke="#555" stroke-width="0.5"/>
<text x="254.4" y="458.9" text-anchor="middle" font-size="4.55" fill="#111">-100</text>
<line x1="299.2" x2="299.2" y1="451" y2="452.8" stroke="#555" stroke-width="0.5"/>
<text x="299.2" y="458.9" text-anchor="middle" font-size="4.55" fill="#111">-50</text>
<line x1="344.1" x2="344.1" y1="451" y2="452.8" stroke="#555" stroke-width="0.5"/>
<text x="344.1" y="458.9" text-anchor="middle" font-size="4.55" fill="#111">0</text>
<line x1="389" x2="389" y1="451" y2="452.8" stroke="#555" stroke-width="0.5"/>
<text x="389" y="458.9" text-anchor="middle" font-size="4.55" fill="#111">50</text>
<line x1="433.8" x2="433.8" y1="451" y2="452.8" stroke="#555" stroke-width="0.5"/>
<text x="433.8" y="458.9" text-anchor="middle" font-size="4.55" fill="#111">100</text>
<text x="348.4" y="343.1" text-anchor="middle" font-size="6.45" fill="#24335a" stroke="#24335a">operative time</text>
<text x="348.4" y="463.4" text-anchor="middle" font-size="4.55" fill="#111">Effect size centred at comparison-specific pooled effect (<tspan font-style="italic">y</tspan><tspan font-size="2.6" dy="0.9">iXY</tspan><tspan dy="-0.9">-μ</tspan><tspan font-size="2.6" dy="0.9">XY</tspan><tspan dy="-0.9">)</tspan></text>
<text transform="translate(239.8,398.1) rotate(-90)" text-anchor="middle" font-size="4.55" fill="#111">Standard error of effect size</text>
<line x1="344.1" x2="344.1" y1="345.2" y2="451" stroke="#f6a6a6" stroke-width="1.3"/>
<path d="M291.9 447.5L344.1 347.5L396.3 447.5" fill="none" stroke="#2a2a2a" stroke-width="0.62" stroke-dasharray="2.9 1.4"/>
<line x1="250" y1="378.4" x2="448" y2="378.4" stroke="#e4edf0" stroke-width="0.6"/>
<circle cx="248.5" cy="365.7" r="1.4" fill="#2d6d66"/>
<circle cx="346.7" cy="350.9" r="1.4" fill="#2d6d66"/>
<circle cx="344.1" cy="354.7" r="1.4" fill="#c10534"/>
<circle cx="344.1" cy="358.2" r="1.4" fill="#55752f"/>
<circle cx="352" cy="361.2" r="1.4" fill="#6e8e84"/>
<circle cx="350.3" cy="363" r="1.4" fill="#1a476f"/>
<circle cx="365.3" cy="361.9" r="1.4" fill="#2d6d66"/>
<circle cx="344.1" cy="362.7" r="1.4" fill="#7b92a8"/>
<circle cx="347.2" cy="368.8" r="1.4" fill="#938dd2"/>
<circle cx="345.2" cy="369.6" r="1.4" fill="#e37e00"/>
<circle cx="344.4" cy="369.8" r="1.4" fill="#000000"/>
<circle cx="324.9" cy="370.2" r="1.4" fill="#938dd2"/>
<circle cx="319.8" cy="371.2" r="1.4" fill="#2d6d66"/>
<circle cx="292" cy="371.5" r="1.4" fill="#6e8e84"/>
<circle cx="302.3" cy="374.3" r="1.4" fill="#2d6d66"/>
<circle cx="368.1" cy="370.5" r="1.4" fill="#6e8e84"/>
<circle cx="368.4" cy="372.5" r="1.4" fill="#a0522d"/>
<circle cx="332.1" cy="372.5" r="1.4" fill="#90353b"/>
<circle cx="344.7" cy="374.2" r="1.4" fill="#90353b"/>
<circle cx="353.7" cy="378.4" r="1.4" fill="#6e8e84"/>
<circle cx="361.6" cy="378.4" r="1.4" fill="#90353b"/>
<circle cx="343.1" cy="380.1" r="1.4" fill="#000000"/>
<circle cx="345.1" cy="381.5" r="1.4" fill="#55752f"/>
<circle cx="313.3" cy="381.8" r="1.4" fill="#1a476f"/>
<circle cx="292" cy="383.5" r="1.4" fill="#a0522d"/>
<circle cx="340" cy="395.5" r="1.4" fill="#e37e00"/>
<circle cx="354.4" cy="413.3" r="1.4" fill="#938dd2"/>
<circle cx="447.9" cy="403" r="1.4" fill="#938dd2"/>
<circle cx="291" cy="447.6" r="1.4" fill="#2d6d66"/>
<circle cx="292.4" cy="448.6" r="1.4" fill="#938dd2"/>
<circle cx="344.1" cy="444.5" r="1.4" fill="#cac27e"/>
<rect x="247.2" y="466.6" width="201.3" height="22.3" fill="#fff" stroke="#555" stroke-width="0.45"/>
<circle cx="250.3" cy="471" r="1.25" fill="#1a476f"/>
<text x="254" y="472.6" font-size="4.55" fill="#111">ACAF vs ACCF</text>
<circle cx="286.9" cy="471" r="1.25" fill="#90353b"/>
<text x="290.6" y="472.6" font-size="4.55" fill="#111">ACAF vs LP</text>
<circle cx="319.8" cy="471" r="1.25" fill="#55752f"/>
<text x="323.5" y="472.6" font-size="4.55" fill="#111">ACCF vs ACDF</text>
<circle cx="358.1" cy="471" r="1.25" fill="#e37e00"/>
<text x="361.8" y="472.6" font-size="4.55" fill="#111">ACCF vs LF</text>
<circle cx="389.6" cy="471" r="1.25" fill="#6e8e84"/>
<text x="393.3" y="472.6" font-size="4.55" fill="#111">ACCF vs LP</text>
<circle cx="421.5" cy="471" r="1.25" fill="#c10534"/>
<text x="425.2" y="472.6" font-size="4.55" fill="#111">ACDF vs LP</text>
<circle cx="250.3" cy="477.8" r="1.25" fill="#938dd2"/>
<text x="254" y="479.4" font-size="4.55" fill="#111">ADF vs LP</text>
<circle cx="286.9" cy="477.8" r="1.25" fill="#cac27e"/>
<text x="290.6" y="479.4" font-size="4.55" fill="#111">ADF vs PDF</text>
<circle cx="319.8" cy="477.8" r="1.25" fill="#a0522d"/>
<text x="323.5" y="479.4" font-size="4.55" fill="#111">ADF vs PDIF</text>
<circle cx="358.1" cy="477.8" r="1.25" fill="#7b92a8"/>
<text x="361.8" y="479.4" font-size="4.55" fill="#111">LC vs LP</text>
<circle cx="389.6" cy="477.8" r="1.25" fill="#2d6d66"/>
<text x="393.3" y="479.4" font-size="4.55" fill="#111">LF vs LP</text>
<circle cx="421.5" cy="477.8" r="1.25" fill="#9c8847"/>
<text x="425.2" y="479.4" font-size="4.55" fill="#111">LP vs VBSO</text>
<circle cx="250.3" cy="484.6" r="1.25" fill="#000000"/>
<text x="254" y="486.2" font-size="4.55" fill="#111">LP vs PDIF</text>
<text transform="translate(228.59,341) scale(1.069,1.474)" font-family="'Liberation Serif',serif" class="L" font-weight="normal" font-size="10" fill="#e60f1e">H</text>
<rect x="473.4" y="345" width="205.6" height="106" fill="#fff"/>
<rect x="473.4" y="348" width="205.6" height="103" fill="#ebf2f3"/>
<line x1="473.4" x2="473.4" y1="345" y2="451" stroke="#8a8a8a" stroke-width="0.6"/>
<line x1="473.4" x2="679" y1="451" y2="451" stroke="#8a8a8a" stroke-width="0.6"/>
<line x1="483.4" x2="483.4" y1="451" y2="452.8" stroke="#555" stroke-width="0.5"/>
<text x="483.4" y="458.9" text-anchor="middle" font-size="4.55" fill="#111">-600</text>
<line x1="527.6" x2="527.6" y1="451" y2="452.8" stroke="#555" stroke-width="0.5"/>
<text x="527.6" y="458.9" text-anchor="middle" font-size="4.55" fill="#111">-400</text>
<line x1="571.8" x2="571.8" y1="451" y2="452.8" stroke="#555" stroke-width="0.5"/>
<text x="571.8" y="458.9" text-anchor="middle" font-size="4.55" fill="#111">-200</text>
<line x1="616" x2="616" y1="451" y2="452.8" stroke="#555" stroke-width="0.5"/>
<text x="616" y="458.9" text-anchor="middle" font-size="4.55" fill="#111">0</text>
<line x1="659.8" x2="659.8" y1="451" y2="452.8" stroke="#555" stroke-width="0.5"/>
<text x="659.8" y="458.9" text-anchor="middle" font-size="4.55" fill="#111">200</text>
<text x="576.2" y="342.9" text-anchor="middle" font-size="6.45" fill="#24335a" stroke="#24335a">blood loss</text>
<text x="576.2" y="463.4" text-anchor="middle" font-size="4.55" fill="#111">Effect size centred at comparison-specific pooled effect (<tspan font-style="italic">y</tspan><tspan font-size="2.6" dy="0.9">iXY</tspan><tspan dy="-0.9">-μ</tspan><tspan font-size="2.6" dy="0.9">XY</tspan><tspan dy="-0.9">)</tspan></text>
<text transform="translate(466.2,398) rotate(-90)" text-anchor="middle" font-size="4.55" fill="#111">Standard error of effect size</text>
<line x1="616" x2="616" y1="345" y2="451" stroke="#f6a6a6" stroke-width="1.3"/>
<path d="M556 449.3L616 347.5L676 449.3" fill="none" stroke="#2a2a2a" stroke-width="0.62" stroke-dasharray="2.9 1.4"/>
<line x1="476.2" y1="392" x2="658.8" y2="363" stroke="#dde6ea" stroke-width="0.6"/>
<circle cx="616.5" cy="349" r="1.4" fill="#9c8847"/>
<circle cx="615.9" cy="355.3" r="1.4" fill="#2d6d66"/>
<circle cx="612.7" cy="355.6" r="1.4" fill="#90353b"/>
<circle cx="476.2" cy="369.1" r="1.4" fill="#7b92a8"/>
<circle cx="589.6" cy="354.4" r="1.4" fill="#9c8847"/>
<circle cx="599.2" cy="356.1" r="1.4" fill="#9c8847"/>
<circle cx="602.9" cy="354.7" r="1.4" fill="#6e8e84"/>
<circle cx="603.6" cy="358.5" r="1.4" fill="#cac27e"/>
<circle cx="611.5" cy="359.9" r="1.4" fill="#1a476f"/>
<circle cx="613.6" cy="356.1" r="1.4" fill="#55752f"/>
<circle cx="616" cy="350.3" r="1.4" fill="#90353b"/>
<circle cx="616.6" cy="352.7" r="1.4" fill="#c10534"/>
<circle cx="623.5" cy="353.4" r="1.4" fill="#6e8e84"/>
<circle cx="621.1" cy="355.4" r="1.4" fill="#cac27e"/>
<circle cx="618.4" cy="356.8" r="1.4" fill="#1a476f"/>
<circle cx="615.3" cy="357.8" r="1.4" fill="#000000"/>
<circle cx="655.3" cy="359.2" r="1.4" fill="#7b92a8"/>
<circle cx="616" cy="366" r="1.4" fill="#e37e00"/>
<circle cx="621.1" cy="372.5" r="1.4" fill="#9c8847"/>
<circle cx="629" cy="372.2" r="1.4" fill="#90353b"/>
<circle cx="625.5" cy="375.6" r="1.4" fill="#9c8847"/>
<circle cx="602.9" cy="381.8" r="1.4" fill="#6e8e84"/>
<circle cx="627.3" cy="391.7" r="1.4" fill="#000000"/>
<circle cx="613.6" cy="394.1" r="1.4" fill="#cac27e"/>
<circle cx="616" cy="398.2" r="1.4" fill="#938dd2"/>
<circle cx="576.2" cy="405.8" r="1.4" fill="#9c8847"/>
<circle cx="660.1" cy="411.2" r="1.4" fill="#cac27e"/>
<circle cx="616" cy="443.4" r="1.4" fill="#a0522d"/>
<circle cx="535.1" cy="448.6" r="1.4" fill="#cac27e"/>
<rect x="474" y="466.6" width="202.5" height="22.3" fill="#fff" stroke="#555" stroke-width="0.45"/>
<circle cx="477.3" cy="471" r="1.25" fill="#1a476f"/>
<text x="481" y="472.6" font-size="4.55" fill="#111">ACAF vs ACCF</text>
<circle cx="513.9" cy="471" r="1.25" fill="#90353b"/>
<text x="517.6" y="472.6" font-size="4.55" fill="#111">ACAF vs LP</text>
<circle cx="546.8" cy="471" r="1.25" fill="#55752f"/>
<text x="550.5" y="472.6" font-size="4.55" fill="#111">ACCF vs ACDF</text>
<circle cx="585.1" cy="471" r="1.25" fill="#e37e00"/>
<text x="588.8" y="472.6" font-size="4.55" fill="#111">ACCF vs LF</text>
<circle cx="616.6" cy="471" r="1.25" fill="#6e8e84"/>
<text x="620.3" y="472.6" font-size="4.55" fill="#111">ACCF vs LP</text>
<circle cx="648.5" cy="471" r="1.25" fill="#c10534"/>
<text x="652.2" y="472.6" font-size="4.55" fill="#111">ACDF vs LP</text>
<circle cx="477.3" cy="477.8" r="1.25" fill="#938dd2"/>
<text x="481" y="479.4" font-size="4.55" fill="#111">ADF vs LF</text>
<circle cx="513.9" cy="477.8" r="1.25" fill="#cac27e"/>
<text x="517.6" y="479.4" font-size="4.55" fill="#111">ADF vs LP</text>
<circle cx="546.8" cy="477.8" r="1.25" fill="#a0522d"/>
<text x="550.5" y="479.4" font-size="4.55" fill="#111">ADF vs PDF</text>
<circle cx="585.1" cy="477.8" r="1.25" fill="#7b92a8"/>
<text x="588.8" y="479.4" font-size="4.55" fill="#111">ADF vs PDIF</text>
<circle cx="616.6" cy="477.8" r="1.25" fill="#2d6d66"/>
<text x="620.3" y="479.4" font-size="4.55" fill="#111">LC vs LP</text>
<circle cx="648.5" cy="477.8" r="1.25" fill="#9c8847"/>
<text x="652.2" y="479.4" font-size="4.55" fill="#111">LF vs LP</text>
<circle cx="477.3" cy="484.6" r="1.25" fill="#000000"/>
<text x="481" y="486.2" font-size="4.55" fill="#111">LP vs PDIF</text>
<text transform="translate(457.09,341) scale(1.967,1.512)" font-family="'Liberation Serif',serif" class="L" font-weight="normal" font-size="10" fill="#e60f1e">I</text>
<g font-size="4.55" fill="#000"><text transform="translate(469.5,347.6) rotate(-90)" text-anchor="middle">0</text><text transform="translate(469.5,348.59) rotate(-90)" text-anchor="middle">.5</text><text transform="translate(469.5,349.58) rotate(-90)" text-anchor="middle">1</text><text transform="translate(469.5,350.57) rotate(-90)" text-anchor="middle">1.5</text><text transform="translate(469.5,351.56) rotate(-90)" text-anchor="middle">2</text><text transform="translate(469.5,352.55) rotate(-90)" text-anchor="middle">2.5</text><text transform="translate(469.5,353.54) rotate(-90)" text-anchor="middle">3</text><text transform="translate(469.5,354.53) rotate(-90)" text-anchor="middle">3.5</text><text transform="translate(469.5,355.52) rotate(-90)" text-anchor="middle">4</text><text transform="translate(469.5,356.51) rotate(-90)" text-anchor="middle">4.5</text><text transform="translate(469.5,357.5) rotate(-90)" text-anchor="middle">5</text><text transform="translate(469.5,358.49) rotate(-90)" text-anchor="middle">5.5</text><text transform="translate(469.5,359.48) rotate(-90)" text-anchor="middle">6</text><text transform="translate(469.5,360.47) rotate(-90)" text-anchor="middle">6.5</text><text transform="translate(469.5,361.46) rotate(-90)" text-anchor="middle">7</text><text transform="translate(469.5,362.45) rotate(-90)" text-anchor="middle">7.5</text><text transform="translate(469.5,363.44) rotate(-90)" text-anchor="middle">8</text><text transform="translate(469.5,364.43) rotate(-90)" text-anchor="middle">8.5</text><text transform="translate(469.5,365.43) rotate(-90)" text-anchor="middle">9</text><text transform="translate(469.5,366.42) rotate(-90)" text-anchor="middle">9.5</text><text transform="translate(469.5,367.41) rotate(-90)" text-anchor="middle">10</text><text transform="translate(469.5,368.4) rotate(-90)" text-anchor="middle">10.5</text><text transform="translate(469.5,369.39) rotate(-90)" text-anchor="middle">11</text><text transform="translate(469.5,370.38) rotate(-90)" text-anchor="middle">11.5</text><text transform="translate(469.5,371.37) rotate(-90)" text-anchor="middle">12</text><text transform="translate(469.5,372.36) rotate(-90)" text-anchor="middle">12.5</text><text transform="translate(469.5,373.35) rotate(-90)" text-anchor="middle">13</text><text transform="translate(469.5,374.34) rotate(-90)" text-anchor="middle">13.5</text><text transform="translate(469.5,375.33) rotate(-90)" text-anchor="middle">14</text><text transform="translate(469.5,376.32) rotate(-90)" text-anchor="middle">14.5</text><text transform="translate(469.5,377.31) rotate(-90)" text-anchor="middle">15</text><text transform="translate(469.5,378.3) rotate(-90)" text-anchor="middle">15.5</text><text transform="translate(469.5,379.29) rotate(-90)" text-anchor="middle">16</text><text transform="translate(469.5,380.28) rotate(-90)" text-anchor="middle">16.5</text><text transform="translate(469.5,381.27) rotate(-90)" text-anchor="middle">17</text><text transform="translate(469.5,382.26) rotate(-90)" text-anchor="middle">17.5</text><text transform="translate(469.5,383.25) rotate(-90)" text-anchor="middle">18</text><text transform="translate(469.5,384.24) rotate(-90)" text-anchor="middle">18.5</text><text transform="translate(469.5,385.23) rotate(-90)" text-anchor="middle">19</text><text transform="translate(469.5,386.22) rotate(-90)" text-anchor="middle">19.5</text><text transform="translate(469.5,387.21) rotate(-90)" text-anchor="middle">20</text><text transform="translate(469.5,388.2) rotate(-90)" text-anchor="middle">20.5</text><text transform="translate(469.5,389.19) rotate(-90)" text-anchor="middle">21</text><text transform="translate(469.5,390.18) rotate(-90)" text-anchor="middle">21.5</text><text transform="translate(469.5,391.17) rotate(-90)" text-anchor="middle">22</text><text transform="translate(469.5,392.16) rotate(-90)" text-anchor="middle">22.5</text><text transform="translate(469.5,393.15) rotate(-90)" text-anchor="middle">23</text><text transform="translate(469.5,394.14) rotate(-90)" text-anchor="middle">23.5</text><text transform="translate(469.5,395.13) rotate(-90)" text-anchor="middle">24</text><text transform="translate(469.5,396.12) rotate(-90)" text-anchor="middle">24.5</text><text transform="translate(469.5,397.11) rotate(-90)" text-anchor="middle">25</text><text transform="translate(469.5,398.1) rotate(-90)" text-anchor="middle">25.5</text><text transform="translate(469.5,399.1) rotate(-90)" text-anchor="middle">26</text><text transform="translate(469.5,400.09) rotate(-90)" text-anchor="middle">26.5</text><text transform="translate(469.5,401.08) rotate(-90)" text-anchor="middle">27</text><text transform="translate(469.5,402.07) rotate(-90)" text-anchor="middle">27.5</text><text transform="translate(469.5,403.06) rotate(-90)" text-anchor="middle">28</text><text transform="translate(469.5,404.05) rotate(-90)" text-anchor="middle">28.5</text><text transform="translate(469.5,405.04) rotate(-90)" text-anchor="middle">29</text><text transform="translate(469.5,406.03) rotate(-90)" text-anchor="middle">29.5</text><text transform="translate(469.5,407.02) rotate(-90)" text-anchor="middle">30</text><text transform="translate(469.5,408.01) rotate(-90)" text-anchor="middle">30.5</text><text transform="translate(469.5,409) rotate(-90)" text-anchor="middle">31</text><text transform="translate(469.5,409.99) rotate(-90)" text-anchor="middle">31.5</text><text transform="translate(469.5,410.98) rotate(-90)" text-anchor="middle">32</text><text transform="translate(469.5,411.97) rotate(-90)" text-anchor="middle">32.5</text><text transform="translate(469.5,412.96) rotate(-90)" text-anchor="middle">33</text><text transform="translate(469.5,413.95) rotate(-90)" text-anchor="middle">33.5</text><text transform="translate(469.5,414.94) rotate(-90)" text-anchor="middle">34</text><text transform="translate(469.5,415.93) rotate(-90)" text-anchor="middle">34.5</text><text transform="translate(469.5,416.92) rotate(-90)" text-anchor="middle">35</text><text transform="translate(469.5,417.91) rotate(-90)" text-anchor="middle">35.5</text><text transform="translate(469.5,418.9) rotate(-90)" text-anchor="middle">36</text><text transform="translate(469.5,419.89) rotate(-90)" text-anchor="middle">36.5</text><text transform="translate(469.5,420.88) rotate(-90)" text-anchor="middle">37</text><text transform="translate(469.5,421.87) rotate(-90)" text-anchor="middle">37.5</text><text transform="translate(469.5,422.86) rotate(-90)" text-anchor="middle">38</text><text transform="translate(469.5,423.85) rotate(-90)" text-anchor="middle">38.5</text><text transform="translate(469.5,424.84) rotate(-90)" text-anchor="middle">39</text><text transform="translate(469.5,425.83) rotate(-90)" text-anchor="middle">39.5</text><text transform="translate(469.5,426.82) rotate(-90)" text-anchor="middle">40</text><text transform="translate(469.5,427.81) rotate(-90)" text-anchor="middle">40.5</text><text transform="translate(469.5,428.8) rotate(-90)" text-anchor="middle">41</text><text transform="translate(469.5,429.79) rotate(-90)" text-anchor="middle">41.5</text><text transform="translate(469.5,430.78) rotate(-90)" text-anchor="middle">42</text><text transform="translate(469.5,431.77) rotate(-90)" text-anchor="middle">42.5</text><text transform="translate(469.5,432.77) rotate(-90)" text-anchor="middle">43</text><text transform="translate(469.5,433.76) rotate(-90)" text-anchor="middle">43.5</text><text transform="translate(469.5,434.75) rotate(-90)" text-anchor="middle">44</text><text transform="translate(469.5,435.74) rotate(-90)" text-anchor="middle">44.5</text><text transform="translate(469.5,436.73) rotate(-90)" text-anchor="middle">45</text><text transform="translate(469.5,437.72) rotate(-90)" text-anchor="middle">45.5</text><text transform="translate(469.5,438.71) rotate(-90)" text-anchor="middle">46</text><text transform="translate(469.5,439.7) rotate(-90)" text-anchor="middle">46.5</text><text transform="translate(469.5,440.69) rotate(-90)" text-anchor="middle">47</text><text transform="translate(469.5,441.68) rotate(-90)" text-anchor="middle">47.5</text><text transform="translate(469.5,442.67) rotate(-90)" text-anchor="middle">48</text><text transform="translate(469.5,443.66) rotate(-90)" text-anchor="middle">48.5</text><text transform="translate(469.5,444.65) rotate(-90)" text-anchor="middle">49</text><text transform="translate(469.5,445.64) rotate(-90)" text-anchor="middle">49.5</text><text transform="translate(469.5,446.63) rotate(-90)" text-anchor="middle">50</text><text transform="translate(469.5,447.62) rotate(-90)" text-anchor="middle">50.5</text><text transform="translate(469.5,448.61) rotate(-90)" text-anchor="middle">51</text><text transform="translate(469.5,449.6) rotate(-90)" text-anchor="middle">51.5</text></g>
<rect x="466.1" y="345.9" width="3.8" height="104.6" fill="#0b0d0b"/>
<rect x="471.3" y="347.5" width="2.3" height="103" fill="#4a4a4a"/>
</svg>
</body>
</html>
